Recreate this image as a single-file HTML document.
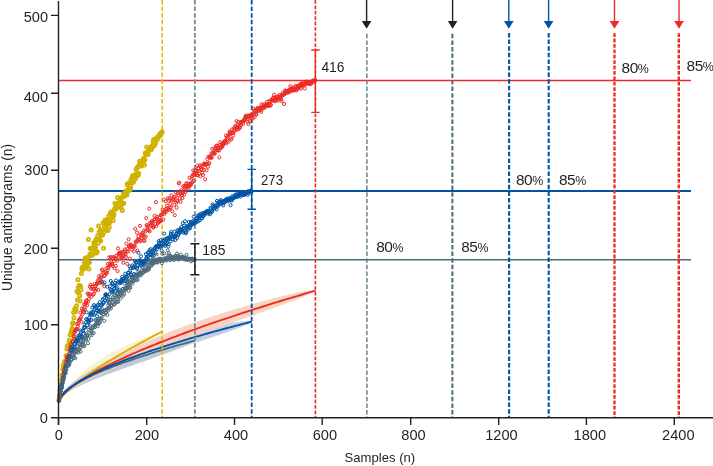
<!DOCTYPE html><html><head><meta charset="utf-8"><title>Chart</title><style>html,body{margin:0;padding:0;background:#fff}svg{display:block}</style></head><body><svg width="713" height="466" viewBox="0 0 713 466" font-family="'Liberation Sans', Arial, sans-serif" fill="#231f20">
<rect width="713" height="466" fill="#fff"/>
<path d="M58.5 402.0 L60.3 397.8 L62.0 394.9 L63.8 392.4 L65.5 390.1 L67.3 387.9 L69.0 385.8 L70.8 383.9 L72.5 382.0 L74.3 380.2 L76.1 378.5 L77.8 376.8 L79.6 375.2 L81.3 373.6 L83.1 372.1 L84.8 370.6 L86.6 369.2 L88.4 367.8 L90.1 366.5 L91.9 365.1 L93.6 363.9 L95.4 362.6 L97.1 361.4 L98.9 360.2 L100.6 359.1 L102.4 358.0 L104.2 356.9 L105.9 355.8 L107.7 354.8 L109.4 353.8 L111.2 352.8 L112.9 351.9 L114.7 351.0 L116.4 350.0 L118.2 349.2 L120.0 348.3 L121.7 347.4 L123.5 346.6 L125.2 345.8 L127.0 345.0 L128.7 344.2 L130.5 343.5 L132.2 342.7 L134.0 342.0 L135.8 341.3 L137.5 340.6 L139.3 339.9 L141.0 339.2 L142.8 338.5 L144.5 337.9 L146.3 337.2 L148.1 336.5 L149.8 335.9 L151.6 335.3 L153.3 334.7 L155.1 334.0 L156.8 333.4 L158.6 332.8 L160.3 332.2 L162.1 331.6 L162.1 331.6 L160.3 332.6 L158.6 333.6 L156.8 334.6 L155.1 335.7 L153.3 336.7 L151.6 337.7 L149.8 338.7 L148.1 339.8 L146.3 340.8 L144.5 341.8 L142.8 342.9 L141.0 343.9 L139.3 345.0 L137.5 346.0 L135.8 347.1 L134.0 348.1 L132.2 349.2 L130.5 350.3 L128.7 351.3 L127.0 352.4 L125.2 353.5 L123.5 354.5 L121.7 355.6 L120.0 356.7 L118.2 357.8 L116.4 358.9 L114.7 360.0 L112.9 361.1 L111.2 362.2 L109.4 363.3 L107.7 364.4 L105.9 365.5 L104.2 366.6 L102.4 367.7 L100.6 368.8 L98.9 369.9 L97.1 371.1 L95.4 372.2 L93.6 373.3 L91.9 374.5 L90.1 375.6 L88.4 376.8 L86.6 378.0 L84.8 379.2 L83.1 380.4 L81.3 381.6 L79.6 382.8 L77.8 384.1 L76.1 385.3 L74.3 386.6 L72.5 388.0 L70.8 389.3 L69.0 390.7 L67.3 392.2 L65.5 393.7 L63.8 395.3 L62.0 397.1 L60.3 399.1 L58.5 402.0Z" fill="#f8f0d0" fill-opacity="0.9"/>
<path d="M58.5 402.0 L60.8 395.3 L63.1 392.0 L65.4 389.3 L67.7 387.0 L70.1 385.0 L72.4 383.1 L74.7 381.3 L77.0 379.6 L79.3 378.1 L81.6 376.6 L83.9 375.1 L86.2 373.8 L88.6 372.4 L90.9 371.2 L93.2 369.9 L95.5 368.7 L97.8 367.6 L100.1 366.5 L102.4 365.4 L104.7 364.3 L107.0 363.3 L109.4 362.3 L111.7 361.3 L114.0 360.3 L116.3 359.4 L118.6 358.5 L120.9 357.6 L123.2 356.7 L125.5 355.9 L127.9 355.1 L130.2 354.3 L132.5 353.5 L134.8 352.7 L137.1 352.0 L139.4 351.2 L141.7 350.5 L144.0 349.8 L146.4 349.2 L148.7 348.5 L151.0 347.8 L153.3 347.2 L155.6 346.6 L157.9 346.0 L160.2 345.4 L162.5 344.9 L164.8 344.3 L167.2 343.8 L169.5 343.3 L171.8 342.8 L174.1 342.3 L176.4 341.9 L178.7 341.5 L181.0 341.1 L183.3 340.7 L185.7 340.4 L188.0 340.1 L190.3 339.9 L192.6 339.8 L194.9 340.6 L194.9 340.6 L192.6 342.6 L190.3 343.8 L188.0 344.9 L185.7 345.9 L183.3 346.9 L181.0 347.8 L178.7 348.7 L176.4 349.6 L174.1 350.5 L171.8 351.3 L169.5 352.2 L167.2 353.1 L164.8 353.9 L162.5 354.8 L160.2 355.6 L157.9 356.4 L155.6 357.2 L153.3 358.1 L151.0 358.9 L148.7 359.7 L146.4 360.5 L144.0 361.4 L141.7 362.2 L139.4 363.0 L137.1 363.8 L134.8 364.6 L132.5 365.4 L130.2 366.3 L127.9 367.1 L125.5 367.9 L123.2 368.7 L120.9 369.6 L118.6 370.4 L116.3 371.2 L114.0 372.1 L111.7 372.9 L109.4 373.8 L107.0 374.7 L104.7 375.5 L102.4 376.4 L100.1 377.3 L97.8 378.2 L95.5 379.1 L93.2 380.1 L90.9 381.0 L88.6 382.0 L86.2 383.0 L83.9 384.0 L81.6 385.1 L79.3 386.2 L77.0 387.3 L74.7 388.5 L72.4 389.8 L70.1 391.1 L67.7 392.5 L65.4 394.1 L63.1 395.9 L60.8 398.1 L58.5 402.0Z" fill="#bcc8d2" fill-opacity="0.9"/>
<path d="M58.5 402.0 L61.8 393.8 L65.0 389.7 L68.3 386.4 L71.6 383.5 L74.9 380.8 L78.1 378.4 L81.4 376.2 L84.7 374.1 L88.0 372.1 L91.2 370.2 L94.5 368.3 L97.8 366.6 L101.1 364.9 L104.3 363.3 L107.6 361.7 L110.9 360.1 L114.2 358.6 L117.4 357.2 L120.7 355.8 L124.0 354.4 L127.3 353.1 L130.5 351.8 L133.8 350.5 L137.1 349.2 L140.4 348.0 L143.6 346.8 L146.9 345.7 L150.2 344.5 L153.5 343.4 L156.7 342.3 L160.0 341.3 L163.3 340.2 L166.6 339.2 L169.8 338.2 L173.1 337.2 L176.4 336.3 L179.7 335.4 L182.9 334.4 L186.2 333.5 L189.5 332.7 L192.8 331.8 L196.0 331.0 L199.3 330.2 L202.6 329.4 L205.9 328.6 L209.1 327.8 L212.4 327.1 L215.7 326.4 L219.0 325.7 L222.2 325.0 L225.5 324.4 L228.8 323.7 L232.1 323.1 L235.3 322.6 L238.6 322.1 L241.9 321.6 L245.2 321.3 L248.4 321.0 L251.7 321.7 L251.7 321.7 L248.4 324.0 L245.2 325.5 L241.9 326.8 L238.6 328.1 L235.3 329.3 L232.1 330.4 L228.8 331.6 L225.5 332.7 L222.2 333.8 L219.0 334.9 L215.7 336.0 L212.4 337.1 L209.1 338.2 L205.9 339.3 L202.6 340.4 L199.3 341.4 L196.0 342.5 L192.8 343.6 L189.5 344.6 L186.2 345.7 L182.9 346.8 L179.7 347.8 L176.4 348.9 L173.1 350.0 L169.8 351.0 L166.6 352.1 L163.3 353.2 L160.0 354.3 L156.7 355.3 L153.5 356.4 L150.2 357.5 L146.9 358.6 L143.6 359.7 L140.4 360.8 L137.1 362.0 L133.8 363.1 L130.5 364.2 L127.3 365.4 L124.0 366.6 L120.7 367.8 L117.4 369.0 L114.2 370.2 L110.9 371.4 L107.6 372.7 L104.3 374.0 L101.1 375.3 L97.8 376.6 L94.5 378.0 L91.2 379.4 L88.0 380.9 L84.7 382.4 L81.4 384.0 L78.1 385.7 L74.9 387.5 L71.6 389.4 L68.3 391.5 L65.0 393.9 L61.8 396.8 L58.5 402.0Z" fill="#bfc8e2" fill-opacity="0.9"/>
<path d="M58.5 402.0 L62.9 393.3 L67.2 388.4 L71.6 384.3 L75.9 380.7 L80.3 377.4 L84.6 374.3 L89.0 371.4 L93.3 368.6 L97.7 365.9 L102.0 363.4 L106.4 360.9 L110.8 358.6 L115.1 356.3 L119.5 354.0 L123.8 351.9 L128.2 349.8 L132.5 347.7 L136.9 345.7 L141.2 343.7 L145.6 341.8 L149.9 339.9 L154.3 338.0 L158.6 336.2 L163.0 334.4 L167.4 332.7 L171.7 331.0 L176.1 329.3 L180.4 327.7 L184.8 326.0 L189.1 324.4 L193.5 322.9 L197.8 321.3 L202.2 319.8 L206.5 318.3 L210.9 316.8 L215.3 315.4 L219.6 314.0 L224.0 312.6 L228.3 311.2 L232.7 309.9 L237.0 308.5 L241.4 307.2 L245.7 305.9 L250.1 304.7 L254.4 303.4 L258.8 302.2 L263.1 301.0 L267.5 299.9 L271.9 298.7 L276.2 297.6 L280.6 296.5 L284.9 295.5 L289.3 294.5 L293.6 293.5 L298.0 292.5 L302.3 291.7 L306.7 290.9 L311.0 290.3 L315.4 290.6 L315.4 290.6 L311.0 293.5 L306.7 295.4 L302.3 297.2 L298.0 299.0 L293.6 300.7 L289.3 302.3 L284.9 303.9 L280.6 305.5 L276.2 307.1 L271.9 308.7 L267.5 310.3 L263.1 311.9 L258.8 313.4 L254.4 315.0 L250.1 316.5 L245.7 318.1 L241.4 319.6 L237.0 321.2 L232.7 322.8 L228.3 324.3 L224.0 325.9 L219.6 327.4 L215.3 329.0 L210.9 330.5 L206.5 332.1 L202.2 333.7 L197.8 335.3 L193.5 336.8 L189.1 338.4 L184.8 340.0 L180.4 341.6 L176.1 343.2 L171.7 344.9 L167.4 346.5 L163.0 348.1 L158.6 349.8 L154.3 351.5 L149.9 353.2 L145.6 354.9 L141.2 356.6 L136.9 358.3 L132.5 360.1 L128.2 361.9 L123.8 363.7 L119.5 365.6 L115.1 367.5 L110.8 369.4 L106.4 371.4 L102.0 373.4 L97.7 375.4 L93.3 377.6 L89.0 379.8 L84.6 382.1 L80.3 384.5 L75.9 387.1 L71.6 389.9 L67.2 392.9 L62.9 396.5 L58.5 402.0Z" fill="#f9cfbd" fill-opacity="0.9"/>
<path d="M58.5 402.0 L60.3 398.8 L62.0 396.5 L63.8 394.6 L65.5 392.8 L67.3 391.1 L69.0 389.5 L70.8 387.9 L72.5 386.4 L74.3 385.0 L76.1 383.6 L77.8 382.2 L79.6 380.8 L81.3 379.5 L83.1 378.2 L84.8 377.0 L86.6 375.7 L88.4 374.5 L90.1 373.3 L91.9 372.1 L93.6 370.9 L95.4 369.7 L97.1 368.6 L98.9 367.4 L100.6 366.3 L102.4 365.2 L104.2 364.1 L105.9 363.0 L107.7 361.9 L109.4 360.8 L111.2 359.8 L112.9 358.7 L114.7 357.6 L116.4 356.6 L118.2 355.6 L120.0 354.5 L121.7 353.5 L123.5 352.5 L125.2 351.5 L127.0 350.5 L128.7 349.5 L130.5 348.5 L132.2 347.5 L134.0 346.6 L135.8 345.6 L137.5 344.6 L139.3 343.7 L141.0 342.7 L142.8 341.8 L144.5 340.8 L146.3 339.9 L148.1 338.9 L149.8 338.0 L151.6 337.1 L153.3 336.2 L155.1 335.2 L156.8 334.3 L158.6 333.4 L160.3 332.5 L162.1 331.6" fill="none" stroke="#d2b300" stroke-width="1.9"/>
<path d="M58.5 402.0 L62.9 394.9 L67.2 390.7 L71.6 387.1 L75.9 383.9 L80.3 380.9 L84.6 378.2 L89.0 375.6 L93.3 373.1 L97.7 370.7 L102.0 368.4 L106.4 366.1 L110.8 364.0 L115.1 361.9 L119.5 359.8 L123.8 357.8 L128.2 355.8 L132.5 353.9 L136.9 352.0 L141.2 350.2 L145.6 348.3 L149.9 346.5 L154.3 344.8 L158.6 343.0 L163.0 341.3 L167.4 339.6 L171.7 337.9 L176.1 336.3 L180.4 334.6 L184.8 333.0 L189.1 331.4 L193.5 329.9 L197.8 328.3 L202.2 326.7 L206.5 325.2 L210.9 323.7 L215.3 322.2 L219.6 320.7 L224.0 319.2 L228.3 317.8 L232.7 316.3 L237.0 314.9 L241.4 313.4 L245.7 312.0 L250.1 310.6 L254.4 309.2 L258.8 307.8 L263.1 306.5 L267.5 305.1 L271.9 303.7 L276.2 302.4 L280.6 301.0 L284.9 299.7 L289.3 298.4 L293.6 297.1 L298.0 295.8 L302.3 294.5 L306.7 293.2 L311.0 291.9 L315.4 290.6" fill="none" stroke="#ee2a24" stroke-width="1.9"/>
<path d="M58.5 402.0 L60.8 396.7 L63.1 393.9 L65.4 391.7 L67.7 389.8 L70.1 388.0 L72.4 386.4 L74.7 384.9 L77.0 383.5 L79.3 382.1 L81.6 380.8 L83.9 379.6 L86.2 378.4 L88.6 377.2 L90.9 376.1 L93.2 375.0 L95.5 373.9 L97.8 372.9 L100.1 371.9 L102.4 370.9 L104.7 369.9 L107.0 369.0 L109.4 368.0 L111.7 367.1 L114.0 366.2 L116.3 365.3 L118.6 364.4 L120.9 363.6 L123.2 362.7 L125.5 361.9 L127.9 361.1 L130.2 360.3 L132.5 359.5 L134.8 358.7 L137.1 357.9 L139.4 357.1 L141.7 356.4 L144.0 355.6 L146.4 354.8 L148.7 354.1 L151.0 353.4 L153.3 352.6 L155.6 351.9 L157.9 351.2 L160.2 350.5 L162.5 349.8 L164.8 349.1 L167.2 348.4 L169.5 347.7 L171.8 347.1 L174.1 346.4 L176.4 345.7 L178.7 345.1 L181.0 344.4 L183.3 343.8 L185.7 343.1 L188.0 342.5 L190.3 341.9 L192.6 341.2 L194.9 340.6" fill="none" stroke="#4d6a79" stroke-width="1.9"/>
<path d="M58.5 402.0 L61.8 395.3 L65.0 391.8 L68.3 389.0 L71.6 386.4 L74.9 384.2 L78.1 382.1 L81.4 380.1 L84.7 378.3 L88.0 376.5 L91.2 374.8 L94.5 373.2 L97.8 371.6 L101.1 370.1 L104.3 368.6 L107.6 367.2 L110.9 365.8 L114.2 364.4 L117.4 363.1 L120.7 361.8 L124.0 360.5 L127.3 359.2 L130.5 358.0 L133.8 356.8 L137.1 355.6 L140.4 354.4 L143.6 353.3 L146.9 352.2 L150.2 351.0 L153.5 349.9 L156.7 348.8 L160.0 347.8 L163.3 346.7 L166.6 345.7 L169.8 344.6 L173.1 343.6 L176.4 342.6 L179.7 341.6 L182.9 340.6 L186.2 339.6 L189.5 338.6 L192.8 337.7 L196.0 336.7 L199.3 335.8 L202.6 334.9 L205.9 333.9 L209.1 333.0 L212.4 332.1 L215.7 331.2 L219.0 330.3 L222.2 329.4 L225.5 328.5 L228.8 327.7 L232.1 326.8 L235.3 325.9 L238.6 325.1 L241.9 324.2 L245.2 323.4 L248.4 322.5 L251.7 321.7" fill="none" stroke="#0054a4" stroke-width="1.9"/>
<path d="M58.5 80.5H691" stroke="#ee2a24" stroke-width="1.3"/>
<path d="M58.5 191H691" stroke="#0054a4" stroke-width="1.8"/>
<path d="M58.5 259.7H691" stroke="#4d6a79" stroke-width="1.5"/>
<path d="M162.2 0.0V417" stroke="#e2b707" stroke-width="1.5" stroke-dasharray="4.5 2.1" fill="none"/>
<path d="M194.9 0.0V417" stroke="#6f8792" stroke-width="1.7" stroke-dasharray="4.5 2.1" fill="none"/>
<path d="M251.7 0.0V417" stroke="#0054a4" stroke-width="1.8" stroke-dasharray="4.5 2.1" fill="none"/>
<path d="M315.4 0.0V417" stroke="#ee2a24" stroke-width="1.6" stroke-dasharray="3.8 1.6" fill="none"/>
<path d="M366.9 33.8V417" stroke="#5d7886" stroke-width="1.4" stroke-dasharray="4.5 2.1" fill="none"/>
<path d="M452.4 33.8V417" stroke="#4d6a79" stroke-width="2.0" stroke-dasharray="4.5 2.1" fill="none"/>
<path d="M509.1 33.0V417" stroke="#0054a4" stroke-width="2.1" stroke-dasharray="4.5 2.1" fill="none"/>
<path d="M548.7 33.0V417" stroke="#0054a4" stroke-width="2.1" stroke-dasharray="4.5 2.1" fill="none"/>
<path d="M614.5 33.2V417" stroke="#ee2a24" stroke-width="2.3" stroke-dasharray="3.8 1.6" fill="none"/>
<path d="M678.8 33.2V417" stroke="#ee2a24" stroke-width="2.4" stroke-dasharray="3.8 1.6" fill="none"/>
<g class="yy" fill="none" stroke="#d0b200" stroke-width="1.8"><circle cx="58.9" cy="400.3" r="1.6"/><circle cx="59.4" cy="394.7" r="1.6"/><circle cx="59.8" cy="390.2" r="1.6"/><circle cx="60.3" cy="388.3" r="1.6"/><circle cx="60.7" cy="385.5" r="1.6"/><circle cx="61.1" cy="384.2" r="1.6"/><circle cx="61.6" cy="379.7" r="1.6"/><circle cx="62.0" cy="374.9" r="1.6"/><circle cx="62.5" cy="375.9" r="1.6"/><circle cx="62.9" cy="369.2" r="1.6"/><circle cx="63.3" cy="365.4" r="1.6"/><circle cx="63.8" cy="369.8" r="1.6"/><circle cx="64.2" cy="363.1" r="1.6"/><circle cx="64.7" cy="361.8" r="1.6"/><circle cx="65.1" cy="361.5" r="1.6"/><circle cx="65.6" cy="361.0" r="1.6"/><circle cx="66.0" cy="355.8" r="1.6"/><circle cx="66.4" cy="356.5" r="1.6"/><circle cx="66.9" cy="348.9" r="1.6"/><circle cx="67.3" cy="346.0" r="1.6"/><circle cx="67.8" cy="357.9" r="1.6"/><circle cx="68.2" cy="356.6" r="1.6"/><circle cx="68.6" cy="345.5" r="1.6"/><circle cx="69.1" cy="342.4" r="1.6"/><circle cx="69.5" cy="340.0" r="1.6"/><circle cx="70.0" cy="334.7" r="1.6"/><circle cx="70.4" cy="347.8" r="1.6"/><circle cx="70.8" cy="334.6" r="1.6"/><circle cx="71.3" cy="331.5" r="1.6"/><circle cx="71.7" cy="330.4" r="1.6"/><circle cx="72.2" cy="328.6" r="1.6"/><circle cx="72.6" cy="323.8" r="1.6"/><circle cx="73.0" cy="322.7" r="1.6"/><circle cx="73.5" cy="312.4" r="1.6"/><circle cx="73.9" cy="317.7" r="1.6"/><circle cx="74.4" cy="337.0" r="1.6"/><circle cx="74.8" cy="308.8" r="1.6"/><circle cx="75.3" cy="308.5" r="1.6"/><circle cx="75.7" cy="311.5" r="1.6"/><circle cx="76.1" cy="309.8" r="1.6"/><circle cx="76.6" cy="305.7" r="1.6"/><circle cx="77.0" cy="291.6" r="1.6"/><circle cx="77.5" cy="300.1" r="1.6"/><circle cx="77.9" cy="279.8" r="1.6"/><circle cx="78.3" cy="287.8" r="1.6"/><circle cx="78.8" cy="293.0" r="1.6"/><circle cx="79.2" cy="285.6" r="1.6"/><circle cx="79.7" cy="295.7" r="1.6"/><circle cx="80.1" cy="300.9" r="1.6"/><circle cx="80.5" cy="285.9" r="1.6"/><circle cx="81.0" cy="289.7" r="1.6"/><circle cx="81.4" cy="273.6" r="1.6"/><circle cx="81.9" cy="268.6" r="1.6"/><circle cx="82.3" cy="269.7" r="1.6"/><circle cx="82.7" cy="267.2" r="1.6"/><circle cx="83.2" cy="266.7" r="1.6"/><circle cx="83.6" cy="267.6" r="1.6"/><circle cx="84.1" cy="268.7" r="1.6"/><circle cx="84.5" cy="262.8" r="1.6"/><circle cx="85.0" cy="259.1" r="1.6"/><circle cx="85.4" cy="258.0" r="1.6"/><circle cx="85.8" cy="266.4" r="1.6"/><circle cx="86.3" cy="263.2" r="1.6"/><circle cx="86.7" cy="266.6" r="1.6"/><circle cx="87.2" cy="265.6" r="1.6"/><circle cx="87.6" cy="257.4" r="1.6"/><circle cx="88.0" cy="262.0" r="1.6"/><circle cx="88.5" cy="239.6" r="1.6"/><circle cx="88.9" cy="269.0" r="1.6"/><circle cx="89.4" cy="262.4" r="1.6"/><circle cx="89.8" cy="254.2" r="1.6"/><circle cx="90.2" cy="248.4" r="1.6"/><circle cx="90.7" cy="255.7" r="1.6"/><circle cx="91.1" cy="230.1" r="1.6"/><circle cx="91.6" cy="248.2" r="1.6"/><circle cx="92.0" cy="255.3" r="1.6"/><circle cx="92.4" cy="251.1" r="1.6"/><circle cx="92.9" cy="247.4" r="1.6"/><circle cx="93.3" cy="254.0" r="1.6"/><circle cx="93.8" cy="243.1" r="1.6"/><circle cx="94.2" cy="249.0" r="1.6"/><circle cx="94.6" cy="244.3" r="1.6"/><circle cx="95.1" cy="241.8" r="1.6"/><circle cx="95.5" cy="247.6" r="1.6"/><circle cx="96.0" cy="239.5" r="1.6"/><circle cx="96.4" cy="253.1" r="1.6"/><circle cx="96.9" cy="240.0" r="1.6"/><circle cx="97.3" cy="251.8" r="1.6"/><circle cx="97.7" cy="235.9" r="1.6"/><circle cx="98.2" cy="243.3" r="1.6"/><circle cx="98.6" cy="225.9" r="1.6"/><circle cx="99.1" cy="232.2" r="1.6"/><circle cx="99.5" cy="238.7" r="1.6"/><circle cx="99.9" cy="240.3" r="1.6"/><circle cx="100.4" cy="230.2" r="1.6"/><circle cx="100.8" cy="241.0" r="1.6"/><circle cx="101.3" cy="230.8" r="1.6"/><circle cx="101.7" cy="234.4" r="1.6"/><circle cx="102.1" cy="234.7" r="1.6"/><circle cx="102.6" cy="234.9" r="1.6"/><circle cx="103.0" cy="223.0" r="1.6"/><circle cx="103.5" cy="248.2" r="1.6"/><circle cx="103.9" cy="232.5" r="1.6"/><circle cx="104.3" cy="227.2" r="1.6"/><circle cx="104.8" cy="223.8" r="1.6"/><circle cx="105.2" cy="220.1" r="1.6"/><circle cx="105.7" cy="220.9" r="1.6"/><circle cx="106.1" cy="228.8" r="1.6"/><circle cx="106.6" cy="224.1" r="1.6"/><circle cx="107.0" cy="219.9" r="1.6"/><circle cx="107.4" cy="221.9" r="1.6"/><circle cx="107.9" cy="230.4" r="1.6"/><circle cx="108.3" cy="221.4" r="1.6"/><circle cx="108.8" cy="216.1" r="1.6"/><circle cx="109.2" cy="227.3" r="1.6"/><circle cx="109.6" cy="222.7" r="1.6"/><circle cx="110.1" cy="220.2" r="1.6"/><circle cx="110.5" cy="213.2" r="1.6"/><circle cx="111.0" cy="212.0" r="1.6"/><circle cx="111.4" cy="212.9" r="1.6"/><circle cx="111.8" cy="215.2" r="1.6"/><circle cx="112.3" cy="215.6" r="1.6"/><circle cx="112.7" cy="217.2" r="1.6"/><circle cx="113.2" cy="220.4" r="1.6"/><circle cx="113.6" cy="215.3" r="1.6"/><circle cx="114.0" cy="214.5" r="1.6"/><circle cx="114.5" cy="208.9" r="1.6"/><circle cx="114.9" cy="203.5" r="1.6"/><circle cx="115.4" cy="209.4" r="1.6"/><circle cx="115.8" cy="207.0" r="1.6"/><circle cx="116.3" cy="207.4" r="1.6"/><circle cx="116.7" cy="208.1" r="1.6"/><circle cx="117.1" cy="203.5" r="1.6"/><circle cx="117.6" cy="197.4" r="1.6"/><circle cx="118.0" cy="206.3" r="1.6"/><circle cx="118.5" cy="206.4" r="1.6"/><circle cx="118.9" cy="202.6" r="1.6"/><circle cx="119.3" cy="206.2" r="1.6"/><circle cx="119.8" cy="202.6" r="1.6"/><circle cx="120.2" cy="198.8" r="1.6"/><circle cx="120.7" cy="202.0" r="1.6"/><circle cx="121.1" cy="208.0" r="1.6"/><circle cx="121.5" cy="197.7" r="1.6"/><circle cx="122.0" cy="203.7" r="1.6"/><circle cx="122.4" cy="210.4" r="1.6"/><circle cx="122.9" cy="203.2" r="1.6"/><circle cx="123.3" cy="194.0" r="1.6"/><circle cx="123.7" cy="203.3" r="1.6"/><circle cx="124.2" cy="196.3" r="1.6"/><circle cx="124.6" cy="193.6" r="1.6"/><circle cx="125.1" cy="192.9" r="1.6"/><circle cx="125.5" cy="195.0" r="1.6"/><circle cx="126.0" cy="192.3" r="1.6"/><circle cx="126.4" cy="190.7" r="1.6"/><circle cx="126.8" cy="194.9" r="1.6"/><circle cx="127.3" cy="184.1" r="1.6"/><circle cx="127.7" cy="185.5" r="1.6"/><circle cx="128.2" cy="190.9" r="1.6"/><circle cx="128.6" cy="189.8" r="1.6"/><circle cx="129.0" cy="190.2" r="1.6"/><circle cx="129.5" cy="182.5" r="1.6"/><circle cx="129.9" cy="188.6" r="1.6"/><circle cx="130.4" cy="185.9" r="1.6"/><circle cx="130.8" cy="189.1" r="1.6"/><circle cx="131.2" cy="179.0" r="1.6"/><circle cx="131.7" cy="182.7" r="1.6"/><circle cx="132.1" cy="180.5" r="1.6"/><circle cx="132.6" cy="175.7" r="1.6"/><circle cx="133.0" cy="177.6" r="1.6"/><circle cx="133.4" cy="182.3" r="1.6"/><circle cx="133.9" cy="176.8" r="1.6"/><circle cx="134.3" cy="175.3" r="1.6"/><circle cx="134.8" cy="179.2" r="1.6"/><circle cx="135.2" cy="178.7" r="1.6"/><circle cx="135.6" cy="177.9" r="1.6"/><circle cx="136.1" cy="169.1" r="1.6"/><circle cx="136.5" cy="173.4" r="1.6"/><circle cx="137.0" cy="175.6" r="1.6"/><circle cx="137.4" cy="167.7" r="1.6"/><circle cx="137.9" cy="166.4" r="1.6"/><circle cx="138.3" cy="175.5" r="1.6"/><circle cx="138.7" cy="173.6" r="1.6"/><circle cx="139.2" cy="165.7" r="1.6"/><circle cx="139.6" cy="161.2" r="1.6"/><circle cx="140.1" cy="163.4" r="1.6"/><circle cx="140.5" cy="163.7" r="1.6"/><circle cx="140.9" cy="165.1" r="1.6"/><circle cx="141.4" cy="166.1" r="1.6"/><circle cx="141.8" cy="163.5" r="1.6"/><circle cx="142.3" cy="161.3" r="1.6"/><circle cx="142.7" cy="163.0" r="1.6"/><circle cx="143.1" cy="159.1" r="1.6"/><circle cx="143.6" cy="160.5" r="1.6"/><circle cx="144.0" cy="158.3" r="1.6"/><circle cx="144.5" cy="164.9" r="1.6"/><circle cx="144.9" cy="159.9" r="1.6"/><circle cx="145.3" cy="153.1" r="1.6"/><circle cx="145.8" cy="154.4" r="1.6"/><circle cx="146.2" cy="154.8" r="1.6"/><circle cx="146.7" cy="146.9" r="1.6"/><circle cx="147.1" cy="152.7" r="1.6"/><circle cx="147.6" cy="152.1" r="1.6"/><circle cx="148.0" cy="154.6" r="1.6"/><circle cx="148.4" cy="151.3" r="1.6"/><circle cx="148.9" cy="150.0" r="1.6"/><circle cx="149.3" cy="148.3" r="1.6"/><circle cx="149.8" cy="148.0" r="1.6"/><circle cx="150.2" cy="149.1" r="1.6"/><circle cx="150.6" cy="148.4" r="1.6"/><circle cx="151.1" cy="150.0" r="1.6"/><circle cx="151.5" cy="146.3" r="1.6"/><circle cx="152.0" cy="148.4" r="1.6"/><circle cx="152.4" cy="146.4" r="1.6"/><circle cx="152.8" cy="145.3" r="1.6"/><circle cx="153.3" cy="141.6" r="1.6"/><circle cx="153.7" cy="139.5" r="1.6"/><circle cx="154.2" cy="145.7" r="1.6"/><circle cx="154.6" cy="144.5" r="1.6"/><circle cx="155.0" cy="142.5" r="1.6"/><circle cx="155.5" cy="143.5" r="1.6"/><circle cx="155.9" cy="140.0" r="1.6"/><circle cx="156.4" cy="139.4" r="1.6"/><circle cx="156.8" cy="137.4" r="1.6"/><circle cx="157.3" cy="139.5" r="1.6"/><circle cx="157.7" cy="138.2" r="1.6"/><circle cx="158.1" cy="137.0" r="1.6"/><circle cx="158.6" cy="136.3" r="1.6"/><circle cx="159.0" cy="136.4" r="1.6"/><circle cx="159.5" cy="135.6" r="1.6"/><circle cx="159.9" cy="134.0" r="1.6"/><circle cx="160.3" cy="135.2" r="1.6"/><circle cx="160.8" cy="133.5" r="1.6"/><circle cx="161.2" cy="132.7" r="1.6"/><circle cx="161.7" cy="132.7" r="1.6"/><circle cx="162.1" cy="131.8" r="1.6"/></g>
<g class="s" fill="none" stroke="#ee2a24" stroke-width="1"><circle cx="58.9" cy="400.9" r="1.55"/><circle cx="59.4" cy="396.8" r="1.55"/><circle cx="59.8" cy="393.8" r="1.55"/><circle cx="60.3" cy="391.5" r="1.55"/><circle cx="60.7" cy="388.7" r="1.55"/><circle cx="61.1" cy="386.6" r="1.55"/><circle cx="61.6" cy="385.0" r="1.55"/><circle cx="62.0" cy="382.6" r="1.55"/><circle cx="62.5" cy="379.3" r="1.55"/><circle cx="62.9" cy="377.1" r="1.55"/><circle cx="63.3" cy="374.5" r="1.55"/><circle cx="63.8" cy="372.3" r="1.55"/><circle cx="64.2" cy="370.1" r="1.55"/><circle cx="64.7" cy="368.5" r="1.55"/><circle cx="65.1" cy="366.4" r="1.55"/><circle cx="65.6" cy="365.5" r="1.55"/><circle cx="66.0" cy="362.3" r="1.55"/><circle cx="66.4" cy="360.5" r="1.55"/><circle cx="66.9" cy="357.3" r="1.55"/><circle cx="67.3" cy="358.8" r="1.55"/><circle cx="67.8" cy="356.2" r="1.55"/><circle cx="68.2" cy="359.2" r="1.55"/><circle cx="68.6" cy="355.1" r="1.55"/><circle cx="69.1" cy="353.3" r="1.55"/><circle cx="69.5" cy="349.7" r="1.55"/><circle cx="70.0" cy="349.6" r="1.55"/><circle cx="70.4" cy="351.0" r="1.55"/><circle cx="70.8" cy="344.0" r="1.55"/><circle cx="71.3" cy="348.5" r="1.55"/><circle cx="71.7" cy="345.6" r="1.55"/><circle cx="72.2" cy="342.3" r="1.55"/><circle cx="72.6" cy="341.4" r="1.55"/><circle cx="73.0" cy="340.9" r="1.55"/><circle cx="73.5" cy="336.3" r="1.55"/><circle cx="73.9" cy="336.7" r="1.55"/><circle cx="74.4" cy="333.0" r="1.55"/><circle cx="74.8" cy="332.0" r="1.55"/><circle cx="75.2" cy="330.7" r="1.55"/><circle cx="75.7" cy="330.2" r="1.55"/><circle cx="76.1" cy="329.4" r="1.55"/><circle cx="76.6" cy="328.8" r="1.55"/><circle cx="77.0" cy="323.6" r="1.55"/><circle cx="77.4" cy="329.4" r="1.55"/><circle cx="77.9" cy="326.4" r="1.55"/><circle cx="78.3" cy="324.2" r="1.55"/><circle cx="78.8" cy="320.5" r="1.55"/><circle cx="79.2" cy="319.8" r="1.55"/><circle cx="79.7" cy="320.0" r="1.55"/><circle cx="80.1" cy="318.6" r="1.55"/><circle cx="80.5" cy="312.5" r="1.55"/><circle cx="81.0" cy="317.2" r="1.55"/><circle cx="81.4" cy="321.6" r="1.55"/><circle cx="81.9" cy="308.5" r="1.55"/><circle cx="82.3" cy="314.6" r="1.55"/><circle cx="82.7" cy="311.9" r="1.55"/><circle cx="83.2" cy="309.5" r="1.55"/><circle cx="83.6" cy="312.4" r="1.55"/><circle cx="84.1" cy="304.4" r="1.55"/><circle cx="84.5" cy="307.6" r="1.55"/><circle cx="84.9" cy="309.7" r="1.55"/><circle cx="85.4" cy="304.1" r="1.55"/><circle cx="85.8" cy="300.9" r="1.55"/><circle cx="86.3" cy="303.1" r="1.55"/><circle cx="86.7" cy="300.5" r="1.55"/><circle cx="87.1" cy="305.5" r="1.55"/><circle cx="87.6" cy="293.4" r="1.55"/><circle cx="88.0" cy="301.6" r="1.55"/><circle cx="88.5" cy="294.0" r="1.55"/><circle cx="88.9" cy="299.1" r="1.55"/><circle cx="89.3" cy="295.7" r="1.55"/><circle cx="89.8" cy="286.7" r="1.55"/><circle cx="90.2" cy="294.1" r="1.55"/><circle cx="90.7" cy="284.8" r="1.55"/><circle cx="91.1" cy="288.7" r="1.55"/><circle cx="91.5" cy="296.6" r="1.55"/><circle cx="92.0" cy="286.9" r="1.55"/><circle cx="92.4" cy="286.5" r="1.55"/><circle cx="92.9" cy="294.6" r="1.55"/><circle cx="93.3" cy="289.4" r="1.55"/><circle cx="93.8" cy="293.9" r="1.55"/><circle cx="94.2" cy="288.9" r="1.55"/><circle cx="94.6" cy="283.9" r="1.55"/><circle cx="95.1" cy="286.3" r="1.55"/><circle cx="95.5" cy="290.5" r="1.55"/><circle cx="96.0" cy="288.8" r="1.55"/><circle cx="96.4" cy="284.7" r="1.55"/><circle cx="96.8" cy="284.2" r="1.55"/><circle cx="97.3" cy="283.0" r="1.55"/><circle cx="97.7" cy="280.6" r="1.55"/><circle cx="98.2" cy="289.9" r="1.55"/><circle cx="98.6" cy="281.6" r="1.55"/><circle cx="99.0" cy="276.4" r="1.55"/><circle cx="99.5" cy="278.4" r="1.55"/><circle cx="99.9" cy="282.8" r="1.55"/><circle cx="100.4" cy="281.8" r="1.55"/><circle cx="100.8" cy="278.0" r="1.55"/><circle cx="101.2" cy="275.1" r="1.55"/><circle cx="101.7" cy="277.4" r="1.55"/><circle cx="102.1" cy="269.5" r="1.55"/><circle cx="102.6" cy="270.5" r="1.55"/><circle cx="103.0" cy="283.7" r="1.55"/><circle cx="103.4" cy="272.7" r="1.55"/><circle cx="103.9" cy="275.8" r="1.55"/><circle cx="104.3" cy="286.3" r="1.55"/><circle cx="104.8" cy="275.7" r="1.55"/><circle cx="105.2" cy="272.2" r="1.55"/><circle cx="105.6" cy="294.3" r="1.55"/><circle cx="106.1" cy="273.8" r="1.55"/><circle cx="106.5" cy="268.4" r="1.55"/><circle cx="107.0" cy="272.8" r="1.55"/><circle cx="107.4" cy="270.6" r="1.55"/><circle cx="107.9" cy="264.0" r="1.55"/><circle cx="108.3" cy="268.0" r="1.55"/><circle cx="108.7" cy="266.4" r="1.55"/><circle cx="109.2" cy="257.3" r="1.55"/><circle cx="109.6" cy="265.6" r="1.55"/><circle cx="110.1" cy="264.6" r="1.55"/><circle cx="110.5" cy="263.5" r="1.55"/><circle cx="110.9" cy="257.1" r="1.55"/><circle cx="111.4" cy="260.7" r="1.55"/><circle cx="111.8" cy="264.2" r="1.55"/><circle cx="112.3" cy="264.5" r="1.55"/><circle cx="112.7" cy="258.0" r="1.55"/><circle cx="113.1" cy="266.2" r="1.55"/><circle cx="113.6" cy="256.8" r="1.55"/><circle cx="114.0" cy="261.2" r="1.55"/><circle cx="114.5" cy="268.2" r="1.55"/><circle cx="114.9" cy="258.1" r="1.55"/><circle cx="115.3" cy="258.6" r="1.55"/><circle cx="115.8" cy="265.8" r="1.55"/><circle cx="116.2" cy="255.9" r="1.55"/><circle cx="116.7" cy="258.5" r="1.55"/><circle cx="117.1" cy="260.6" r="1.55"/><circle cx="117.5" cy="271.1" r="1.55"/><circle cx="118.0" cy="248.4" r="1.55"/><circle cx="118.4" cy="254.6" r="1.55"/><circle cx="118.9" cy="253.5" r="1.55"/><circle cx="119.3" cy="252.8" r="1.55"/><circle cx="119.8" cy="253.5" r="1.55"/><circle cx="120.2" cy="253.3" r="1.55"/><circle cx="120.6" cy="258.4" r="1.55"/><circle cx="121.1" cy="252.4" r="1.55"/><circle cx="121.5" cy="256.9" r="1.55"/><circle cx="122.0" cy="257.9" r="1.55"/><circle cx="122.4" cy="252.2" r="1.55"/><circle cx="122.8" cy="255.9" r="1.55"/><circle cx="123.3" cy="262.7" r="1.55"/><circle cx="123.7" cy="256.2" r="1.55"/><circle cx="124.2" cy="251.3" r="1.55"/><circle cx="124.6" cy="253.7" r="1.55"/><circle cx="125.0" cy="249.4" r="1.55"/><circle cx="125.5" cy="254.6" r="1.55"/><circle cx="125.9" cy="257.0" r="1.55"/><circle cx="126.4" cy="243.6" r="1.55"/><circle cx="126.8" cy="251.1" r="1.55"/><circle cx="127.2" cy="263.7" r="1.55"/><circle cx="127.7" cy="248.9" r="1.55"/><circle cx="128.1" cy="251.6" r="1.55"/><circle cx="128.6" cy="239.3" r="1.55"/><circle cx="129.0" cy="246.1" r="1.55"/><circle cx="129.4" cy="247.1" r="1.55"/><circle cx="129.9" cy="258.8" r="1.55"/><circle cx="130.3" cy="244.3" r="1.55"/><circle cx="130.8" cy="245.8" r="1.55"/><circle cx="131.2" cy="245.2" r="1.55"/><circle cx="131.6" cy="246.5" r="1.55"/><circle cx="132.1" cy="249.7" r="1.55"/><circle cx="132.5" cy="247.2" r="1.55"/><circle cx="133.0" cy="267.4" r="1.55"/><circle cx="133.4" cy="246.4" r="1.55"/><circle cx="133.9" cy="251.4" r="1.55"/><circle cx="134.3" cy="245.8" r="1.55"/><circle cx="134.7" cy="246.8" r="1.55"/><circle cx="135.2" cy="228.8" r="1.55"/><circle cx="135.6" cy="242.0" r="1.55"/><circle cx="136.1" cy="242.5" r="1.55"/><circle cx="136.5" cy="241.3" r="1.55"/><circle cx="136.9" cy="232.6" r="1.55"/><circle cx="137.4" cy="250.6" r="1.55"/><circle cx="137.8" cy="239.4" r="1.55"/><circle cx="138.3" cy="236.2" r="1.55"/><circle cx="138.7" cy="239.1" r="1.55"/><circle cx="139.1" cy="238.8" r="1.55"/><circle cx="139.6" cy="241.1" r="1.55"/><circle cx="140.0" cy="225.9" r="1.55"/><circle cx="140.5" cy="234.4" r="1.55"/><circle cx="140.9" cy="240.9" r="1.55"/><circle cx="141.3" cy="238.2" r="1.55"/><circle cx="141.8" cy="235.5" r="1.55"/><circle cx="142.2" cy="234.2" r="1.55"/><circle cx="142.7" cy="232.7" r="1.55"/><circle cx="143.1" cy="235.5" r="1.55"/><circle cx="143.5" cy="240.4" r="1.55"/><circle cx="144.0" cy="230.4" r="1.55"/><circle cx="144.4" cy="241.0" r="1.55"/><circle cx="144.9" cy="237.6" r="1.55"/><circle cx="145.3" cy="231.7" r="1.55"/><circle cx="145.7" cy="236.5" r="1.55"/><circle cx="146.2" cy="218.1" r="1.55"/><circle cx="146.6" cy="225.0" r="1.55"/><circle cx="147.1" cy="226.4" r="1.55"/><circle cx="147.5" cy="229.7" r="1.55"/><circle cx="148.0" cy="229.6" r="1.55"/><circle cx="148.4" cy="225.4" r="1.55"/><circle cx="148.8" cy="230.5" r="1.55"/><circle cx="149.3" cy="208.6" r="1.55"/><circle cx="149.7" cy="231.3" r="1.55"/><circle cx="150.2" cy="222.8" r="1.55"/><circle cx="150.6" cy="225.6" r="1.55"/><circle cx="151.0" cy="226.1" r="1.55"/><circle cx="151.5" cy="222.6" r="1.55"/><circle cx="151.9" cy="221.2" r="1.55"/><circle cx="152.4" cy="222.1" r="1.55"/><circle cx="152.8" cy="225.7" r="1.55"/><circle cx="153.2" cy="227.6" r="1.55"/><circle cx="153.7" cy="226.9" r="1.55"/><circle cx="154.1" cy="219.9" r="1.55"/><circle cx="154.6" cy="215.8" r="1.55"/><circle cx="155.0" cy="219.1" r="1.55"/><circle cx="155.4" cy="224.1" r="1.55"/><circle cx="155.9" cy="202.1" r="1.55"/><circle cx="156.3" cy="226.2" r="1.55"/><circle cx="156.8" cy="218.6" r="1.55"/><circle cx="157.2" cy="216.8" r="1.55"/><circle cx="157.6" cy="222.6" r="1.55"/><circle cx="158.1" cy="223.0" r="1.55"/><circle cx="158.5" cy="219.6" r="1.55"/><circle cx="159.0" cy="221.9" r="1.55"/><circle cx="159.4" cy="217.7" r="1.55"/><circle cx="159.8" cy="221.5" r="1.55"/><circle cx="160.3" cy="221.0" r="1.55"/><circle cx="160.7" cy="215.0" r="1.55"/><circle cx="161.2" cy="220.6" r="1.55"/><circle cx="161.6" cy="214.9" r="1.55"/><circle cx="162.1" cy="214.1" r="1.55"/><circle cx="162.5" cy="209.6" r="1.55"/><circle cx="162.9" cy="211.6" r="1.55"/><circle cx="163.4" cy="219.5" r="1.55"/><circle cx="163.8" cy="199.6" r="1.55"/><circle cx="164.3" cy="213.9" r="1.55"/><circle cx="164.7" cy="212.2" r="1.55"/><circle cx="165.1" cy="211.5" r="1.55"/><circle cx="165.6" cy="201.2" r="1.55"/><circle cx="166.0" cy="209.0" r="1.55"/><circle cx="166.5" cy="211.5" r="1.55"/><circle cx="166.9" cy="205.5" r="1.55"/><circle cx="167.3" cy="208.3" r="1.55"/><circle cx="167.8" cy="198.3" r="1.55"/><circle cx="168.2" cy="209.6" r="1.55"/><circle cx="168.7" cy="200.5" r="1.55"/><circle cx="169.1" cy="209.4" r="1.55"/><circle cx="169.5" cy="198.5" r="1.55"/><circle cx="170.0" cy="207.8" r="1.55"/><circle cx="170.4" cy="203.7" r="1.55"/><circle cx="170.9" cy="207.3" r="1.55"/><circle cx="171.3" cy="195.3" r="1.55"/><circle cx="171.7" cy="200.8" r="1.55"/><circle cx="172.2" cy="211.3" r="1.55"/><circle cx="172.6" cy="199.1" r="1.55"/><circle cx="173.1" cy="199.1" r="1.55"/><circle cx="173.5" cy="200.2" r="1.55"/><circle cx="174.0" cy="196.9" r="1.55"/><circle cx="174.4" cy="204.8" r="1.55"/><circle cx="174.8" cy="215.2" r="1.55"/><circle cx="175.3" cy="196.7" r="1.55"/><circle cx="175.7" cy="192.4" r="1.55"/><circle cx="176.2" cy="202.8" r="1.55"/><circle cx="176.6" cy="207.7" r="1.55"/><circle cx="177.0" cy="200.5" r="1.55"/><circle cx="177.5" cy="201.3" r="1.55"/><circle cx="177.9" cy="193.2" r="1.55"/><circle cx="178.4" cy="195.3" r="1.55"/><circle cx="178.8" cy="183.4" r="1.55"/><circle cx="179.2" cy="182.7" r="1.55"/><circle cx="179.7" cy="198.1" r="1.55"/><circle cx="180.1" cy="191.6" r="1.55"/><circle cx="180.6" cy="201.9" r="1.55"/><circle cx="181.0" cy="193.3" r="1.55"/><circle cx="181.4" cy="190.2" r="1.55"/><circle cx="181.9" cy="195.0" r="1.55"/><circle cx="182.3" cy="198.2" r="1.55"/><circle cx="182.8" cy="192.9" r="1.55"/><circle cx="183.2" cy="186.2" r="1.55"/><circle cx="183.6" cy="191.5" r="1.55"/><circle cx="184.1" cy="194.6" r="1.55"/><circle cx="184.5" cy="187.4" r="1.55"/><circle cx="185.0" cy="185.9" r="1.55"/><circle cx="185.4" cy="191.9" r="1.55"/><circle cx="185.8" cy="188.2" r="1.55"/><circle cx="186.3" cy="183.3" r="1.55"/><circle cx="186.7" cy="185.4" r="1.55"/><circle cx="187.2" cy="183.6" r="1.55"/><circle cx="187.6" cy="186.8" r="1.55"/><circle cx="188.1" cy="186.1" r="1.55"/><circle cx="188.5" cy="188.6" r="1.55"/><circle cx="188.9" cy="186.5" r="1.55"/><circle cx="189.4" cy="177.8" r="1.55"/><circle cx="189.8" cy="184.2" r="1.55"/><circle cx="190.3" cy="185.3" r="1.55"/><circle cx="190.7" cy="183.1" r="1.55"/><circle cx="191.1" cy="184.5" r="1.55"/><circle cx="191.6" cy="178.4" r="1.55"/><circle cx="192.0" cy="176.4" r="1.55"/><circle cx="192.5" cy="182.3" r="1.55"/><circle cx="192.9" cy="174.7" r="1.55"/><circle cx="193.3" cy="170.4" r="1.55"/><circle cx="193.8" cy="180.8" r="1.55"/><circle cx="194.2" cy="174.1" r="1.55"/><circle cx="194.7" cy="175.1" r="1.55"/><circle cx="195.1" cy="170.8" r="1.55"/><circle cx="195.5" cy="170.6" r="1.55"/><circle cx="196.0" cy="170.8" r="1.55"/><circle cx="196.4" cy="173.0" r="1.55"/><circle cx="196.9" cy="175.0" r="1.55"/><circle cx="197.3" cy="165.5" r="1.55"/><circle cx="197.7" cy="175.4" r="1.55"/><circle cx="198.2" cy="168.4" r="1.55"/><circle cx="198.6" cy="168.3" r="1.55"/><circle cx="199.1" cy="173.7" r="1.55"/><circle cx="199.5" cy="170.7" r="1.55"/><circle cx="199.9" cy="165.3" r="1.55"/><circle cx="200.4" cy="176.2" r="1.55"/><circle cx="200.8" cy="166.7" r="1.55"/><circle cx="201.3" cy="169.9" r="1.55"/><circle cx="201.7" cy="169.3" r="1.55"/><circle cx="202.2" cy="172.8" r="1.55"/><circle cx="202.6" cy="166.2" r="1.55"/><circle cx="203.0" cy="175.0" r="1.55"/><circle cx="203.5" cy="164.3" r="1.55"/><circle cx="203.9" cy="169.9" r="1.55"/><circle cx="204.4" cy="163.3" r="1.55"/><circle cx="204.8" cy="164.1" r="1.55"/><circle cx="205.2" cy="179.3" r="1.55"/><circle cx="205.7" cy="165.2" r="1.55"/><circle cx="206.1" cy="163.9" r="1.55"/><circle cx="206.6" cy="170.2" r="1.55"/><circle cx="207.0" cy="163.6" r="1.55"/><circle cx="207.4" cy="159.2" r="1.55"/><circle cx="207.9" cy="166.7" r="1.55"/><circle cx="208.3" cy="156.8" r="1.55"/><circle cx="208.8" cy="163.6" r="1.55"/><circle cx="209.2" cy="163.3" r="1.55"/><circle cx="209.6" cy="157.0" r="1.55"/><circle cx="210.1" cy="156.2" r="1.55"/><circle cx="210.5" cy="158.2" r="1.55"/><circle cx="211.0" cy="157.1" r="1.55"/><circle cx="211.4" cy="153.4" r="1.55"/><circle cx="211.8" cy="157.6" r="1.55"/><circle cx="212.3" cy="148.9" r="1.55"/><circle cx="212.7" cy="153.3" r="1.55"/><circle cx="213.2" cy="152.8" r="1.55"/><circle cx="213.6" cy="152.6" r="1.55"/><circle cx="214.1" cy="153.8" r="1.55"/><circle cx="214.5" cy="148.5" r="1.55"/><circle cx="214.9" cy="153.5" r="1.55"/><circle cx="215.4" cy="150.5" r="1.55"/><circle cx="215.8" cy="148.5" r="1.55"/><circle cx="216.3" cy="145.8" r="1.55"/><circle cx="216.7" cy="145.9" r="1.55"/><circle cx="217.1" cy="150.1" r="1.55"/><circle cx="217.6" cy="145.6" r="1.55"/><circle cx="218.0" cy="148.2" r="1.55"/><circle cx="218.5" cy="150.7" r="1.55"/><circle cx="218.9" cy="150.1" r="1.55"/><circle cx="219.3" cy="157.5" r="1.55"/><circle cx="219.8" cy="145.1" r="1.55"/><circle cx="220.2" cy="142.2" r="1.55"/><circle cx="220.7" cy="148.0" r="1.55"/><circle cx="221.1" cy="146.6" r="1.55"/><circle cx="221.5" cy="147.3" r="1.55"/><circle cx="222.0" cy="143.5" r="1.55"/><circle cx="222.4" cy="146.5" r="1.55"/><circle cx="222.9" cy="144.9" r="1.55"/><circle cx="223.3" cy="144.0" r="1.55"/><circle cx="223.7" cy="142.9" r="1.55"/><circle cx="224.2" cy="142.1" r="1.55"/><circle cx="224.6" cy="141.1" r="1.55"/><circle cx="225.1" cy="140.6" r="1.55"/><circle cx="225.5" cy="142.3" r="1.55"/><circle cx="225.9" cy="135.5" r="1.55"/><circle cx="226.4" cy="143.4" r="1.55"/><circle cx="226.8" cy="137.6" r="1.55"/><circle cx="227.3" cy="140.3" r="1.55"/><circle cx="227.7" cy="136.7" r="1.55"/><circle cx="228.2" cy="135.8" r="1.55"/><circle cx="228.6" cy="141.7" r="1.55"/><circle cx="229.0" cy="134.6" r="1.55"/><circle cx="229.5" cy="131.4" r="1.55"/><circle cx="229.9" cy="132.5" r="1.55"/><circle cx="230.4" cy="133.2" r="1.55"/><circle cx="230.8" cy="139.5" r="1.55"/><circle cx="231.2" cy="133.6" r="1.55"/><circle cx="231.7" cy="138.7" r="1.55"/><circle cx="232.1" cy="129.4" r="1.55"/><circle cx="232.6" cy="132.6" r="1.55"/><circle cx="233.0" cy="133.0" r="1.55"/><circle cx="233.4" cy="135.5" r="1.55"/><circle cx="233.9" cy="128.3" r="1.55"/><circle cx="234.3" cy="131.3" r="1.55"/><circle cx="234.8" cy="130.0" r="1.55"/><circle cx="235.2" cy="126.0" r="1.55"/><circle cx="235.6" cy="128.2" r="1.55"/><circle cx="236.1" cy="127.0" r="1.55"/><circle cx="236.5" cy="121.1" r="1.55"/><circle cx="237.0" cy="128.3" r="1.55"/><circle cx="237.4" cy="129.7" r="1.55"/><circle cx="237.8" cy="124.8" r="1.55"/><circle cx="238.3" cy="122.0" r="1.55"/><circle cx="238.7" cy="129.0" r="1.55"/><circle cx="239.2" cy="125.4" r="1.55"/><circle cx="239.6" cy="127.0" r="1.55"/><circle cx="240.0" cy="127.6" r="1.55"/><circle cx="240.5" cy="122.2" r="1.55"/><circle cx="240.9" cy="125.2" r="1.55"/><circle cx="241.4" cy="122.1" r="1.55"/><circle cx="241.8" cy="122.2" r="1.55"/><circle cx="242.3" cy="121.7" r="1.55"/><circle cx="242.7" cy="121.5" r="1.55"/><circle cx="243.1" cy="123.9" r="1.55"/><circle cx="243.6" cy="121.0" r="1.55"/><circle cx="244.0" cy="119.9" r="1.55"/><circle cx="244.5" cy="119.2" r="1.55"/><circle cx="244.9" cy="120.4" r="1.55"/><circle cx="245.3" cy="116.9" r="1.55"/><circle cx="245.8" cy="115.8" r="1.55"/><circle cx="246.2" cy="118.0" r="1.55"/><circle cx="246.7" cy="116.5" r="1.55"/><circle cx="247.1" cy="117.2" r="1.55"/><circle cx="247.5" cy="115.6" r="1.55"/><circle cx="248.0" cy="121.6" r="1.55"/><circle cx="248.4" cy="124.0" r="1.55"/><circle cx="248.9" cy="117.3" r="1.55"/><circle cx="249.3" cy="115.8" r="1.55"/><circle cx="249.7" cy="120.9" r="1.55"/><circle cx="250.2" cy="116.2" r="1.55"/><circle cx="250.6" cy="114.9" r="1.55"/><circle cx="251.1" cy="115.6" r="1.55"/><circle cx="251.5" cy="115.3" r="1.55"/><circle cx="251.9" cy="117.6" r="1.55"/><circle cx="252.4" cy="114.0" r="1.55"/><circle cx="252.8" cy="118.7" r="1.55"/><circle cx="253.3" cy="108.7" r="1.55"/><circle cx="253.7" cy="114.9" r="1.55"/><circle cx="254.1" cy="110.7" r="1.55"/><circle cx="254.6" cy="116.9" r="1.55"/><circle cx="255.0" cy="110.7" r="1.55"/><circle cx="255.5" cy="112.0" r="1.55"/><circle cx="255.9" cy="114.0" r="1.55"/><circle cx="256.4" cy="114.5" r="1.55"/><circle cx="256.8" cy="108.9" r="1.55"/><circle cx="257.2" cy="110.3" r="1.55"/><circle cx="257.7" cy="107.8" r="1.55"/><circle cx="258.1" cy="110.9" r="1.55"/><circle cx="258.6" cy="110.1" r="1.55"/><circle cx="259.0" cy="108.2" r="1.55"/><circle cx="259.4" cy="108.3" r="1.55"/><circle cx="259.9" cy="108.6" r="1.55"/><circle cx="260.3" cy="107.6" r="1.55"/><circle cx="260.8" cy="110.0" r="1.55"/><circle cx="261.2" cy="111.8" r="1.55"/><circle cx="261.6" cy="104.2" r="1.55"/><circle cx="262.1" cy="107.8" r="1.55"/><circle cx="262.5" cy="106.9" r="1.55"/><circle cx="263.0" cy="108.5" r="1.55"/><circle cx="263.4" cy="105.2" r="1.55"/><circle cx="263.8" cy="106.6" r="1.55"/><circle cx="264.3" cy="104.4" r="1.55"/><circle cx="264.7" cy="107.7" r="1.55"/><circle cx="265.2" cy="106.2" r="1.55"/><circle cx="265.6" cy="105.4" r="1.55"/><circle cx="266.0" cy="106.2" r="1.55"/><circle cx="266.5" cy="104.6" r="1.55"/><circle cx="266.9" cy="101.8" r="1.55"/><circle cx="267.4" cy="105.7" r="1.55"/><circle cx="267.8" cy="104.8" r="1.55"/><circle cx="268.3" cy="103.7" r="1.55"/><circle cx="268.7" cy="105.6" r="1.55"/><circle cx="269.1" cy="105.8" r="1.55"/><circle cx="269.6" cy="101.0" r="1.55"/><circle cx="270.0" cy="101.3" r="1.55"/><circle cx="270.5" cy="105.5" r="1.55"/><circle cx="270.9" cy="104.9" r="1.55"/><circle cx="271.3" cy="100.6" r="1.55"/><circle cx="271.8" cy="99.4" r="1.55"/><circle cx="272.2" cy="100.2" r="1.55"/><circle cx="272.7" cy="100.2" r="1.55"/><circle cx="273.1" cy="97.9" r="1.55"/><circle cx="273.5" cy="100.6" r="1.55"/><circle cx="274.0" cy="94.7" r="1.55"/><circle cx="274.4" cy="97.8" r="1.55"/><circle cx="274.9" cy="101.3" r="1.55"/><circle cx="275.3" cy="98.2" r="1.55"/><circle cx="275.7" cy="99.0" r="1.55"/><circle cx="276.2" cy="100.0" r="1.55"/><circle cx="276.6" cy="100.1" r="1.55"/><circle cx="277.1" cy="97.0" r="1.55"/><circle cx="277.5" cy="98.3" r="1.55"/><circle cx="277.9" cy="96.4" r="1.55"/><circle cx="278.4" cy="100.6" r="1.55"/><circle cx="278.8" cy="98.4" r="1.55"/><circle cx="279.3" cy="95.2" r="1.55"/><circle cx="279.7" cy="96.8" r="1.55"/><circle cx="280.1" cy="97.7" r="1.55"/><circle cx="280.6" cy="97.0" r="1.55"/><circle cx="281.0" cy="99.0" r="1.55"/><circle cx="281.5" cy="101.0" r="1.55"/><circle cx="281.9" cy="94.6" r="1.55"/><circle cx="282.4" cy="95.0" r="1.55"/><circle cx="282.8" cy="92.9" r="1.55"/><circle cx="283.2" cy="95.0" r="1.55"/><circle cx="283.7" cy="94.6" r="1.55"/><circle cx="284.1" cy="104.0" r="1.55"/><circle cx="284.6" cy="94.0" r="1.55"/><circle cx="285.0" cy="90.4" r="1.55"/><circle cx="285.4" cy="92.3" r="1.55"/><circle cx="285.9" cy="93.2" r="1.55"/><circle cx="286.3" cy="90.9" r="1.55"/><circle cx="286.8" cy="91.2" r="1.55"/><circle cx="287.2" cy="91.7" r="1.55"/><circle cx="287.6" cy="92.5" r="1.55"/><circle cx="288.1" cy="91.5" r="1.55"/><circle cx="288.5" cy="90.3" r="1.55"/><circle cx="289.0" cy="92.4" r="1.55"/><circle cx="289.4" cy="90.4" r="1.55"/><circle cx="289.8" cy="89.3" r="1.55"/><circle cx="290.3" cy="86.2" r="1.55"/><circle cx="290.7" cy="89.4" r="1.55"/><circle cx="291.2" cy="91.1" r="1.55"/><circle cx="291.6" cy="87.9" r="1.55"/><circle cx="292.0" cy="89.7" r="1.55"/><circle cx="292.5" cy="90.5" r="1.55"/><circle cx="292.9" cy="88.9" r="1.55"/><circle cx="293.4" cy="89.9" r="1.55"/><circle cx="293.8" cy="87.5" r="1.55"/><circle cx="294.2" cy="90.4" r="1.55"/><circle cx="294.7" cy="89.9" r="1.55"/><circle cx="295.1" cy="88.6" r="1.55"/><circle cx="295.6" cy="86.0" r="1.55"/><circle cx="296.0" cy="86.6" r="1.55"/><circle cx="296.5" cy="90.4" r="1.55"/><circle cx="296.9" cy="89.5" r="1.55"/><circle cx="297.3" cy="87.6" r="1.55"/><circle cx="297.8" cy="88.4" r="1.55"/><circle cx="298.2" cy="86.1" r="1.55"/><circle cx="298.7" cy="86.4" r="1.55"/><circle cx="299.1" cy="86.4" r="1.55"/><circle cx="299.5" cy="87.2" r="1.55"/><circle cx="300.0" cy="84.3" r="1.55"/><circle cx="300.4" cy="86.7" r="1.55"/><circle cx="300.9" cy="88.7" r="1.55"/><circle cx="301.3" cy="84.1" r="1.55"/><circle cx="301.7" cy="83.8" r="1.55"/><circle cx="302.2" cy="85.3" r="1.55"/><circle cx="302.6" cy="84.2" r="1.55"/><circle cx="303.1" cy="82.4" r="1.55"/><circle cx="303.5" cy="85.3" r="1.55"/><circle cx="303.9" cy="84.5" r="1.55"/><circle cx="304.4" cy="83.8" r="1.55"/><circle cx="304.8" cy="88.4" r="1.55"/><circle cx="305.3" cy="84.2" r="1.55"/><circle cx="305.7" cy="83.1" r="1.55"/><circle cx="306.1" cy="83.7" r="1.55"/><circle cx="306.6" cy="81.5" r="1.55"/><circle cx="307.0" cy="82.7" r="1.55"/><circle cx="307.5" cy="83.4" r="1.55"/><circle cx="307.9" cy="82.6" r="1.55"/><circle cx="308.3" cy="82.5" r="1.55"/><circle cx="308.8" cy="83.9" r="1.55"/><circle cx="309.2" cy="83.1" r="1.55"/><circle cx="309.7" cy="83.6" r="1.55"/><circle cx="310.1" cy="82.6" r="1.55"/><circle cx="310.6" cy="82.4" r="1.55"/><circle cx="311.0" cy="83.9" r="1.55"/><circle cx="311.4" cy="81.8" r="1.55"/><circle cx="311.9" cy="82.6" r="1.55"/><circle cx="312.3" cy="81.0" r="1.55"/><circle cx="312.8" cy="81.2" r="1.55"/><circle cx="313.2" cy="80.5" r="1.55"/><circle cx="313.6" cy="80.9" r="1.55"/><circle cx="314.1" cy="81.1" r="1.55"/><circle cx="314.5" cy="81.2" r="1.55"/><circle cx="315.0" cy="80.4" r="1.55"/><circle cx="315.4" cy="80.4" r="1.55"/></g>
<g class="s" fill="none" stroke="#0054a4" stroke-width="1"><circle cx="58.9" cy="400.8" r="1.55"/><circle cx="59.4" cy="397.6" r="1.55"/><circle cx="59.8" cy="395.5" r="1.55"/><circle cx="60.3" cy="391.6" r="1.55"/><circle cx="60.7" cy="390.3" r="1.55"/><circle cx="61.1" cy="388.3" r="1.55"/><circle cx="61.6" cy="386.1" r="1.55"/><circle cx="62.0" cy="384.8" r="1.55"/><circle cx="62.5" cy="382.6" r="1.55"/><circle cx="62.9" cy="380.4" r="1.55"/><circle cx="63.3" cy="378.2" r="1.55"/><circle cx="63.8" cy="376.7" r="1.55"/><circle cx="64.2" cy="373.1" r="1.55"/><circle cx="64.6" cy="372.6" r="1.55"/><circle cx="65.1" cy="373.2" r="1.55"/><circle cx="65.5" cy="371.5" r="1.55"/><circle cx="66.0" cy="367.6" r="1.55"/><circle cx="66.4" cy="366.1" r="1.55"/><circle cx="66.8" cy="364.8" r="1.55"/><circle cx="67.3" cy="364.9" r="1.55"/><circle cx="67.7" cy="361.8" r="1.55"/><circle cx="68.2" cy="362.6" r="1.55"/><circle cx="68.6" cy="357.9" r="1.55"/><circle cx="69.0" cy="357.7" r="1.55"/><circle cx="69.5" cy="356.0" r="1.55"/><circle cx="69.9" cy="356.7" r="1.55"/><circle cx="70.4" cy="355.9" r="1.55"/><circle cx="70.8" cy="347.4" r="1.55"/><circle cx="71.2" cy="350.9" r="1.55"/><circle cx="71.7" cy="352.1" r="1.55"/><circle cx="72.1" cy="349.5" r="1.55"/><circle cx="72.6" cy="347.0" r="1.55"/><circle cx="73.0" cy="350.9" r="1.55"/><circle cx="73.4" cy="349.0" r="1.55"/><circle cx="73.9" cy="349.5" r="1.55"/><circle cx="74.3" cy="344.0" r="1.55"/><circle cx="74.7" cy="347.6" r="1.55"/><circle cx="75.2" cy="344.0" r="1.55"/><circle cx="75.6" cy="349.3" r="1.55"/><circle cx="76.1" cy="340.8" r="1.55"/><circle cx="76.5" cy="340.0" r="1.55"/><circle cx="76.9" cy="341.7" r="1.55"/><circle cx="77.4" cy="338.7" r="1.55"/><circle cx="77.8" cy="341.2" r="1.55"/><circle cx="78.3" cy="340.2" r="1.55"/><circle cx="78.7" cy="335.5" r="1.55"/><circle cx="79.1" cy="337.2" r="1.55"/><circle cx="79.6" cy="335.3" r="1.55"/><circle cx="80.0" cy="337.8" r="1.55"/><circle cx="80.5" cy="330.5" r="1.55"/><circle cx="80.9" cy="332.5" r="1.55"/><circle cx="81.3" cy="336.3" r="1.55"/><circle cx="81.8" cy="338.5" r="1.55"/><circle cx="82.2" cy="337.0" r="1.55"/><circle cx="82.7" cy="330.6" r="1.55"/><circle cx="83.1" cy="331.2" r="1.55"/><circle cx="83.5" cy="333.6" r="1.55"/><circle cx="84.0" cy="327.8" r="1.55"/><circle cx="84.4" cy="324.4" r="1.55"/><circle cx="84.8" cy="327.0" r="1.55"/><circle cx="85.3" cy="327.4" r="1.55"/><circle cx="85.7" cy="322.4" r="1.55"/><circle cx="86.2" cy="319.0" r="1.55"/><circle cx="86.6" cy="312.3" r="1.55"/><circle cx="87.0" cy="325.1" r="1.55"/><circle cx="87.5" cy="319.5" r="1.55"/><circle cx="87.9" cy="320.9" r="1.55"/><circle cx="88.4" cy="321.4" r="1.55"/><circle cx="88.8" cy="322.0" r="1.55"/><circle cx="89.2" cy="317.9" r="1.55"/><circle cx="89.7" cy="320.3" r="1.55"/><circle cx="90.1" cy="314.5" r="1.55"/><circle cx="90.6" cy="313.9" r="1.55"/><circle cx="91.0" cy="312.5" r="1.55"/><circle cx="91.4" cy="320.0" r="1.55"/><circle cx="91.9" cy="314.9" r="1.55"/><circle cx="92.3" cy="307.5" r="1.55"/><circle cx="92.7" cy="312.2" r="1.55"/><circle cx="93.2" cy="312.0" r="1.55"/><circle cx="93.6" cy="315.0" r="1.55"/><circle cx="94.1" cy="305.1" r="1.55"/><circle cx="94.5" cy="306.6" r="1.55"/><circle cx="94.9" cy="308.6" r="1.55"/><circle cx="95.4" cy="320.0" r="1.55"/><circle cx="95.8" cy="312.8" r="1.55"/><circle cx="96.3" cy="307.7" r="1.55"/><circle cx="96.7" cy="310.8" r="1.55"/><circle cx="97.1" cy="316.2" r="1.55"/><circle cx="97.6" cy="305.8" r="1.55"/><circle cx="98.0" cy="304.7" r="1.55"/><circle cx="98.5" cy="311.1" r="1.55"/><circle cx="98.9" cy="307.5" r="1.55"/><circle cx="99.3" cy="311.7" r="1.55"/><circle cx="99.8" cy="302.2" r="1.55"/><circle cx="100.2" cy="312.2" r="1.55"/><circle cx="100.7" cy="310.8" r="1.55"/><circle cx="101.1" cy="305.4" r="1.55"/><circle cx="101.5" cy="305.4" r="1.55"/><circle cx="102.0" cy="281.8" r="1.55"/><circle cx="102.4" cy="304.3" r="1.55"/><circle cx="102.8" cy="299.1" r="1.55"/><circle cx="103.3" cy="302.4" r="1.55"/><circle cx="103.7" cy="303.0" r="1.55"/><circle cx="104.2" cy="298.2" r="1.55"/><circle cx="104.6" cy="282.5" r="1.55"/><circle cx="105.0" cy="300.2" r="1.55"/><circle cx="105.5" cy="295.1" r="1.55"/><circle cx="105.9" cy="294.5" r="1.55"/><circle cx="106.4" cy="294.8" r="1.55"/><circle cx="106.8" cy="295.4" r="1.55"/><circle cx="107.2" cy="286.7" r="1.55"/><circle cx="107.7" cy="300.9" r="1.55"/><circle cx="108.1" cy="296.4" r="1.55"/><circle cx="108.6" cy="299.5" r="1.55"/><circle cx="109.0" cy="302.6" r="1.55"/><circle cx="109.4" cy="294.1" r="1.55"/><circle cx="109.9" cy="286.2" r="1.55"/><circle cx="110.3" cy="289.4" r="1.55"/><circle cx="110.8" cy="281.0" r="1.55"/><circle cx="111.2" cy="290.1" r="1.55"/><circle cx="111.6" cy="292.0" r="1.55"/><circle cx="112.1" cy="283.1" r="1.55"/><circle cx="112.5" cy="292.2" r="1.55"/><circle cx="112.9" cy="284.2" r="1.55"/><circle cx="113.4" cy="291.1" r="1.55"/><circle cx="113.8" cy="289.0" r="1.55"/><circle cx="114.3" cy="286.0" r="1.55"/><circle cx="114.7" cy="288.2" r="1.55"/><circle cx="115.1" cy="283.0" r="1.55"/><circle cx="115.6" cy="285.2" r="1.55"/><circle cx="116.0" cy="280.4" r="1.55"/><circle cx="116.5" cy="286.6" r="1.55"/><circle cx="116.9" cy="293.6" r="1.55"/><circle cx="117.3" cy="293.7" r="1.55"/><circle cx="117.8" cy="290.6" r="1.55"/><circle cx="118.2" cy="291.4" r="1.55"/><circle cx="118.7" cy="281.7" r="1.55"/><circle cx="119.1" cy="289.6" r="1.55"/><circle cx="119.5" cy="283.3" r="1.55"/><circle cx="120.0" cy="282.4" r="1.55"/><circle cx="120.4" cy="281.5" r="1.55"/><circle cx="120.9" cy="282.5" r="1.55"/><circle cx="121.3" cy="280.0" r="1.55"/><circle cx="121.7" cy="281.0" r="1.55"/><circle cx="122.2" cy="276.7" r="1.55"/><circle cx="122.6" cy="279.0" r="1.55"/><circle cx="123.0" cy="288.9" r="1.55"/><circle cx="123.5" cy="279.0" r="1.55"/><circle cx="123.9" cy="278.3" r="1.55"/><circle cx="124.4" cy="283.6" r="1.55"/><circle cx="124.8" cy="281.1" r="1.55"/><circle cx="125.2" cy="273.7" r="1.55"/><circle cx="125.7" cy="276.7" r="1.55"/><circle cx="126.1" cy="280.6" r="1.55"/><circle cx="126.6" cy="277.7" r="1.55"/><circle cx="127.0" cy="276.7" r="1.55"/><circle cx="127.4" cy="281.7" r="1.55"/><circle cx="127.9" cy="272.8" r="1.55"/><circle cx="128.3" cy="275.3" r="1.55"/><circle cx="128.8" cy="272.6" r="1.55"/><circle cx="129.2" cy="287.3" r="1.55"/><circle cx="129.6" cy="266.4" r="1.55"/><circle cx="130.1" cy="270.8" r="1.55"/><circle cx="130.5" cy="268.2" r="1.55"/><circle cx="130.9" cy="274.9" r="1.55"/><circle cx="131.4" cy="274.3" r="1.55"/><circle cx="131.8" cy="276.8" r="1.55"/><circle cx="132.3" cy="265.4" r="1.55"/><circle cx="132.7" cy="277.3" r="1.55"/><circle cx="133.1" cy="267.8" r="1.55"/><circle cx="133.6" cy="267.5" r="1.55"/><circle cx="134.0" cy="274.1" r="1.55"/><circle cx="134.5" cy="265.7" r="1.55"/><circle cx="134.9" cy="261.1" r="1.55"/><circle cx="135.3" cy="267.0" r="1.55"/><circle cx="135.8" cy="262.5" r="1.55"/><circle cx="136.2" cy="262.0" r="1.55"/><circle cx="136.7" cy="268.5" r="1.55"/><circle cx="137.1" cy="267.9" r="1.55"/><circle cx="137.5" cy="279.8" r="1.55"/><circle cx="138.0" cy="265.3" r="1.55"/><circle cx="138.4" cy="252.7" r="1.55"/><circle cx="138.9" cy="262.5" r="1.55"/><circle cx="139.3" cy="261.6" r="1.55"/><circle cx="139.7" cy="260.1" r="1.55"/><circle cx="140.2" cy="265.6" r="1.55"/><circle cx="140.6" cy="261.4" r="1.55"/><circle cx="141.0" cy="256.3" r="1.55"/><circle cx="141.5" cy="265.4" r="1.55"/><circle cx="141.9" cy="262.1" r="1.55"/><circle cx="142.4" cy="265.1" r="1.55"/><circle cx="142.8" cy="262.1" r="1.55"/><circle cx="143.2" cy="263.6" r="1.55"/><circle cx="143.7" cy="261.3" r="1.55"/><circle cx="144.1" cy="264.9" r="1.55"/><circle cx="144.6" cy="261.7" r="1.55"/><circle cx="145.0" cy="261.2" r="1.55"/><circle cx="145.4" cy="260.9" r="1.55"/><circle cx="145.9" cy="254.1" r="1.55"/><circle cx="146.3" cy="258.1" r="1.55"/><circle cx="146.8" cy="257.4" r="1.55"/><circle cx="147.2" cy="258.6" r="1.55"/><circle cx="147.6" cy="252.9" r="1.55"/><circle cx="148.1" cy="262.7" r="1.55"/><circle cx="148.5" cy="257.1" r="1.55"/><circle cx="149.0" cy="252.3" r="1.55"/><circle cx="149.4" cy="250.2" r="1.55"/><circle cx="149.8" cy="254.6" r="1.55"/><circle cx="150.3" cy="254.9" r="1.55"/><circle cx="150.7" cy="249.2" r="1.55"/><circle cx="151.1" cy="254.7" r="1.55"/><circle cx="151.6" cy="251.9" r="1.55"/><circle cx="152.0" cy="255.5" r="1.55"/><circle cx="152.5" cy="250.9" r="1.55"/><circle cx="152.9" cy="252.8" r="1.55"/><circle cx="153.3" cy="255.7" r="1.55"/><circle cx="153.8" cy="260.5" r="1.55"/><circle cx="154.2" cy="248.4" r="1.55"/><circle cx="154.7" cy="249.8" r="1.55"/><circle cx="155.1" cy="248.2" r="1.55"/><circle cx="155.5" cy="253.1" r="1.55"/><circle cx="156.0" cy="246.5" r="1.55"/><circle cx="156.4" cy="246.1" r="1.55"/><circle cx="156.9" cy="249.3" r="1.55"/><circle cx="157.3" cy="245.9" r="1.55"/><circle cx="157.7" cy="245.6" r="1.55"/><circle cx="158.2" cy="246.7" r="1.55"/><circle cx="158.6" cy="241.2" r="1.55"/><circle cx="159.1" cy="242.9" r="1.55"/><circle cx="159.5" cy="245.7" r="1.55"/><circle cx="159.9" cy="247.0" r="1.55"/><circle cx="160.4" cy="245.5" r="1.55"/><circle cx="160.8" cy="240.1" r="1.55"/><circle cx="161.2" cy="243.7" r="1.55"/><circle cx="161.7" cy="250.6" r="1.55"/><circle cx="162.1" cy="246.0" r="1.55"/><circle cx="162.6" cy="243.6" r="1.55"/><circle cx="163.0" cy="240.6" r="1.55"/><circle cx="163.4" cy="244.8" r="1.55"/><circle cx="163.9" cy="240.7" r="1.55"/><circle cx="164.3" cy="233.6" r="1.55"/><circle cx="164.8" cy="239.2" r="1.55"/><circle cx="165.2" cy="245.8" r="1.55"/><circle cx="165.6" cy="241.7" r="1.55"/><circle cx="166.1" cy="244.2" r="1.55"/><circle cx="166.5" cy="239.0" r="1.55"/><circle cx="167.0" cy="242.9" r="1.55"/><circle cx="167.4" cy="238.0" r="1.55"/><circle cx="167.8" cy="239.0" r="1.55"/><circle cx="168.3" cy="246.6" r="1.55"/><circle cx="168.7" cy="244.2" r="1.55"/><circle cx="169.2" cy="237.1" r="1.55"/><circle cx="169.6" cy="238.0" r="1.55"/><circle cx="170.0" cy="238.9" r="1.55"/><circle cx="170.5" cy="241.2" r="1.55"/><circle cx="170.9" cy="234.0" r="1.55"/><circle cx="171.3" cy="232.0" r="1.55"/><circle cx="171.8" cy="235.9" r="1.55"/><circle cx="172.2" cy="236.4" r="1.55"/><circle cx="172.7" cy="236.4" r="1.55"/><circle cx="173.1" cy="239.5" r="1.55"/><circle cx="173.5" cy="236.4" r="1.55"/><circle cx="174.0" cy="237.5" r="1.55"/><circle cx="174.4" cy="231.7" r="1.55"/><circle cx="174.9" cy="237.0" r="1.55"/><circle cx="175.3" cy="240.1" r="1.55"/><circle cx="175.7" cy="236.1" r="1.55"/><circle cx="176.2" cy="234.3" r="1.55"/><circle cx="176.6" cy="233.7" r="1.55"/><circle cx="177.1" cy="237.9" r="1.55"/><circle cx="177.5" cy="230.1" r="1.55"/><circle cx="177.9" cy="232.1" r="1.55"/><circle cx="178.4" cy="235.1" r="1.55"/><circle cx="178.8" cy="233.9" r="1.55"/><circle cx="179.2" cy="230.3" r="1.55"/><circle cx="179.7" cy="232.1" r="1.55"/><circle cx="180.1" cy="229.2" r="1.55"/><circle cx="180.6" cy="231.0" r="1.55"/><circle cx="181.0" cy="230.0" r="1.55"/><circle cx="181.4" cy="227.0" r="1.55"/><circle cx="181.9" cy="229.7" r="1.55"/><circle cx="182.3" cy="231.9" r="1.55"/><circle cx="182.8" cy="223.2" r="1.55"/><circle cx="183.2" cy="228.3" r="1.55"/><circle cx="183.6" cy="232.8" r="1.55"/><circle cx="184.1" cy="225.6" r="1.55"/><circle cx="184.5" cy="228.6" r="1.55"/><circle cx="185.0" cy="221.3" r="1.55"/><circle cx="185.4" cy="230.4" r="1.55"/><circle cx="185.8" cy="233.2" r="1.55"/><circle cx="186.3" cy="232.1" r="1.55"/><circle cx="186.7" cy="226.1" r="1.55"/><circle cx="187.2" cy="228.2" r="1.55"/><circle cx="187.6" cy="226.4" r="1.55"/><circle cx="188.0" cy="226.4" r="1.55"/><circle cx="188.5" cy="229.4" r="1.55"/><circle cx="188.9" cy="221.9" r="1.55"/><circle cx="189.3" cy="227.6" r="1.55"/><circle cx="189.8" cy="224.5" r="1.55"/><circle cx="190.2" cy="227.8" r="1.55"/><circle cx="190.7" cy="225.1" r="1.55"/><circle cx="191.1" cy="222.0" r="1.55"/><circle cx="191.5" cy="224.0" r="1.55"/><circle cx="192.0" cy="224.8" r="1.55"/><circle cx="192.4" cy="222.8" r="1.55"/><circle cx="192.9" cy="223.6" r="1.55"/><circle cx="193.3" cy="220.8" r="1.55"/><circle cx="193.7" cy="216.7" r="1.55"/><circle cx="194.2" cy="223.6" r="1.55"/><circle cx="194.6" cy="222.8" r="1.55"/><circle cx="195.1" cy="221.2" r="1.55"/><circle cx="195.5" cy="220.6" r="1.55"/><circle cx="195.9" cy="222.6" r="1.55"/><circle cx="196.4" cy="218.8" r="1.55"/><circle cx="196.8" cy="217.9" r="1.55"/><circle cx="197.3" cy="218.2" r="1.55"/><circle cx="197.7" cy="221.6" r="1.55"/><circle cx="198.1" cy="215.4" r="1.55"/><circle cx="198.6" cy="220.9" r="1.55"/><circle cx="199.0" cy="216.5" r="1.55"/><circle cx="199.4" cy="215.1" r="1.55"/><circle cx="199.9" cy="220.1" r="1.55"/><circle cx="200.3" cy="216.7" r="1.55"/><circle cx="200.8" cy="213.8" r="1.55"/><circle cx="201.2" cy="215.5" r="1.55"/><circle cx="201.6" cy="218.0" r="1.55"/><circle cx="202.1" cy="218.3" r="1.55"/><circle cx="202.5" cy="213.2" r="1.55"/><circle cx="203.0" cy="215.9" r="1.55"/><circle cx="203.4" cy="216.2" r="1.55"/><circle cx="203.8" cy="213.0" r="1.55"/><circle cx="204.3" cy="214.8" r="1.55"/><circle cx="204.7" cy="213.7" r="1.55"/><circle cx="205.2" cy="212.3" r="1.55"/><circle cx="205.6" cy="212.1" r="1.55"/><circle cx="206.0" cy="212.9" r="1.55"/><circle cx="206.5" cy="212.5" r="1.55"/><circle cx="206.9" cy="211.0" r="1.55"/><circle cx="207.4" cy="210.9" r="1.55"/><circle cx="207.8" cy="213.7" r="1.55"/><circle cx="208.2" cy="211.6" r="1.55"/><circle cx="208.7" cy="212.6" r="1.55"/><circle cx="209.1" cy="212.9" r="1.55"/><circle cx="209.5" cy="211.3" r="1.55"/><circle cx="210.0" cy="214.3" r="1.55"/><circle cx="210.4" cy="207.9" r="1.55"/><circle cx="210.9" cy="210.8" r="1.55"/><circle cx="211.3" cy="208.3" r="1.55"/><circle cx="211.7" cy="212.1" r="1.55"/><circle cx="212.2" cy="211.5" r="1.55"/><circle cx="212.6" cy="204.2" r="1.55"/><circle cx="213.1" cy="205.8" r="1.55"/><circle cx="213.5" cy="208.5" r="1.55"/><circle cx="213.9" cy="208.4" r="1.55"/><circle cx="214.4" cy="208.0" r="1.55"/><circle cx="214.8" cy="206.2" r="1.55"/><circle cx="215.3" cy="207.9" r="1.55"/><circle cx="215.7" cy="206.8" r="1.55"/><circle cx="216.1" cy="205.2" r="1.55"/><circle cx="216.6" cy="209.4" r="1.55"/><circle cx="217.0" cy="200.9" r="1.55"/><circle cx="217.5" cy="205.8" r="1.55"/><circle cx="217.9" cy="202.6" r="1.55"/><circle cx="218.3" cy="205.8" r="1.55"/><circle cx="218.8" cy="203.5" r="1.55"/><circle cx="219.2" cy="202.2" r="1.55"/><circle cx="219.6" cy="204.1" r="1.55"/><circle cx="220.1" cy="201.7" r="1.55"/><circle cx="220.5" cy="201.4" r="1.55"/><circle cx="221.0" cy="200.1" r="1.55"/><circle cx="221.4" cy="202.4" r="1.55"/><circle cx="221.8" cy="203.1" r="1.55"/><circle cx="222.3" cy="203.7" r="1.55"/><circle cx="222.7" cy="201.5" r="1.55"/><circle cx="223.2" cy="205.4" r="1.55"/><circle cx="223.6" cy="201.4" r="1.55"/><circle cx="224.0" cy="201.0" r="1.55"/><circle cx="224.5" cy="201.9" r="1.55"/><circle cx="224.9" cy="202.5" r="1.55"/><circle cx="225.4" cy="200.2" r="1.55"/><circle cx="225.8" cy="199.7" r="1.55"/><circle cx="226.2" cy="199.8" r="1.55"/><circle cx="226.7" cy="200.4" r="1.55"/><circle cx="227.1" cy="198.8" r="1.55"/><circle cx="227.6" cy="201.4" r="1.55"/><circle cx="228.0" cy="199.2" r="1.55"/><circle cx="228.4" cy="200.2" r="1.55"/><circle cx="228.9" cy="198.3" r="1.55"/><circle cx="229.3" cy="200.4" r="1.55"/><circle cx="229.7" cy="199.7" r="1.55"/><circle cx="230.2" cy="198.4" r="1.55"/><circle cx="230.6" cy="205.2" r="1.55"/><circle cx="231.1" cy="199.1" r="1.55"/><circle cx="231.5" cy="200.8" r="1.55"/><circle cx="231.9" cy="199.6" r="1.55"/><circle cx="232.4" cy="196.2" r="1.55"/><circle cx="232.8" cy="197.5" r="1.55"/><circle cx="233.3" cy="198.4" r="1.55"/><circle cx="233.7" cy="197.9" r="1.55"/><circle cx="234.1" cy="197.6" r="1.55"/><circle cx="234.6" cy="197.0" r="1.55"/><circle cx="235.0" cy="195.1" r="1.55"/><circle cx="235.5" cy="196.8" r="1.55"/><circle cx="235.9" cy="194.3" r="1.55"/><circle cx="236.3" cy="197.1" r="1.55"/><circle cx="236.8" cy="195.7" r="1.55"/><circle cx="237.2" cy="195.6" r="1.55"/><circle cx="237.6" cy="196.0" r="1.55"/><circle cx="238.1" cy="196.7" r="1.55"/><circle cx="238.5" cy="194.4" r="1.55"/><circle cx="239.0" cy="193.9" r="1.55"/><circle cx="239.4" cy="193.0" r="1.55"/><circle cx="239.8" cy="193.3" r="1.55"/><circle cx="240.3" cy="194.3" r="1.55"/><circle cx="240.7" cy="196.5" r="1.55"/><circle cx="241.2" cy="193.9" r="1.55"/><circle cx="241.6" cy="195.3" r="1.55"/><circle cx="242.0" cy="193.3" r="1.55"/><circle cx="242.5" cy="194.6" r="1.55"/><circle cx="242.9" cy="193.9" r="1.55"/><circle cx="243.4" cy="194.0" r="1.55"/><circle cx="243.8" cy="194.3" r="1.55"/><circle cx="244.2" cy="195.1" r="1.55"/><circle cx="244.7" cy="193.7" r="1.55"/><circle cx="245.1" cy="193.6" r="1.55"/><circle cx="245.6" cy="192.5" r="1.55"/><circle cx="246.0" cy="193.5" r="1.55"/><circle cx="246.4" cy="192.8" r="1.55"/><circle cx="246.9" cy="193.3" r="1.55"/><circle cx="247.3" cy="192.6" r="1.55"/><circle cx="247.7" cy="194.9" r="1.55"/><circle cx="248.2" cy="191.2" r="1.55"/><circle cx="248.6" cy="192.0" r="1.55"/><circle cx="249.1" cy="192.5" r="1.55"/><circle cx="249.5" cy="191.7" r="1.55"/><circle cx="249.9" cy="191.4" r="1.55"/><circle cx="250.4" cy="191.5" r="1.55"/><circle cx="250.8" cy="190.3" r="1.55"/><circle cx="251.3" cy="191.3" r="1.55"/><circle cx="251.7" cy="191.6" r="1.55"/></g>
<g class="s" fill="none" stroke="#4d6a79" stroke-width="1"><circle cx="58.9" cy="401.0" r="1.55"/><circle cx="59.4" cy="398.2" r="1.55"/><circle cx="59.8" cy="395.9" r="1.55"/><circle cx="60.3" cy="393.4" r="1.55"/><circle cx="60.7" cy="391.1" r="1.55"/><circle cx="61.1" cy="389.0" r="1.55"/><circle cx="61.6" cy="387.4" r="1.55"/><circle cx="62.0" cy="387.8" r="1.55"/><circle cx="62.5" cy="383.3" r="1.55"/><circle cx="62.9" cy="381.3" r="1.55"/><circle cx="63.3" cy="380.4" r="1.55"/><circle cx="63.8" cy="378.9" r="1.55"/><circle cx="64.2" cy="376.5" r="1.55"/><circle cx="64.7" cy="373.8" r="1.55"/><circle cx="65.1" cy="373.6" r="1.55"/><circle cx="65.5" cy="373.3" r="1.55"/><circle cx="66.0" cy="369.7" r="1.55"/><circle cx="66.4" cy="369.6" r="1.55"/><circle cx="66.9" cy="366.5" r="1.55"/><circle cx="67.3" cy="366.1" r="1.55"/><circle cx="67.7" cy="364.1" r="1.55"/><circle cx="68.2" cy="365.4" r="1.55"/><circle cx="68.6" cy="362.9" r="1.55"/><circle cx="69.1" cy="365.2" r="1.55"/><circle cx="69.5" cy="363.6" r="1.55"/><circle cx="69.9" cy="361.7" r="1.55"/><circle cx="70.4" cy="357.1" r="1.55"/><circle cx="70.8" cy="359.9" r="1.55"/><circle cx="71.3" cy="360.0" r="1.55"/><circle cx="71.7" cy="359.5" r="1.55"/><circle cx="72.1" cy="351.1" r="1.55"/><circle cx="72.6" cy="356.7" r="1.55"/><circle cx="73.0" cy="354.7" r="1.55"/><circle cx="73.5" cy="354.3" r="1.55"/><circle cx="73.9" cy="357.6" r="1.55"/><circle cx="74.3" cy="352.5" r="1.55"/><circle cx="74.8" cy="353.7" r="1.55"/><circle cx="75.2" cy="358.2" r="1.55"/><circle cx="75.7" cy="349.1" r="1.55"/><circle cx="76.1" cy="351.6" r="1.55"/><circle cx="76.5" cy="351.9" r="1.55"/><circle cx="77.0" cy="350.8" r="1.55"/><circle cx="77.4" cy="346.7" r="1.55"/><circle cx="77.9" cy="349.6" r="1.55"/><circle cx="78.3" cy="352.5" r="1.55"/><circle cx="78.7" cy="343.7" r="1.55"/><circle cx="79.2" cy="350.0" r="1.55"/><circle cx="79.6" cy="347.2" r="1.55"/><circle cx="80.1" cy="344.3" r="1.55"/><circle cx="80.5" cy="351.7" r="1.55"/><circle cx="80.9" cy="347.3" r="1.55"/><circle cx="81.4" cy="340.7" r="1.55"/><circle cx="81.8" cy="344.1" r="1.55"/><circle cx="82.3" cy="345.1" r="1.55"/><circle cx="82.7" cy="342.0" r="1.55"/><circle cx="83.1" cy="344.3" r="1.55"/><circle cx="83.6" cy="341.0" r="1.55"/><circle cx="84.0" cy="346.3" r="1.55"/><circle cx="84.5" cy="345.3" r="1.55"/><circle cx="84.9" cy="337.4" r="1.55"/><circle cx="85.3" cy="339.9" r="1.55"/><circle cx="85.8" cy="336.9" r="1.55"/><circle cx="86.2" cy="338.5" r="1.55"/><circle cx="86.7" cy="333.2" r="1.55"/><circle cx="87.1" cy="334.8" r="1.55"/><circle cx="87.5" cy="335.6" r="1.55"/><circle cx="88.0" cy="343.2" r="1.55"/><circle cx="88.4" cy="339.1" r="1.55"/><circle cx="88.9" cy="329.8" r="1.55"/><circle cx="89.3" cy="327.3" r="1.55"/><circle cx="89.7" cy="335.6" r="1.55"/><circle cx="90.2" cy="325.8" r="1.55"/><circle cx="90.6" cy="330.5" r="1.55"/><circle cx="91.1" cy="331.2" r="1.55"/><circle cx="91.5" cy="335.3" r="1.55"/><circle cx="91.9" cy="332.7" r="1.55"/><circle cx="92.4" cy="328.5" r="1.55"/><circle cx="92.8" cy="327.8" r="1.55"/><circle cx="93.3" cy="327.5" r="1.55"/><circle cx="93.7" cy="333.0" r="1.55"/><circle cx="94.1" cy="325.7" r="1.55"/><circle cx="94.6" cy="325.5" r="1.55"/><circle cx="95.0" cy="327.1" r="1.55"/><circle cx="95.5" cy="324.9" r="1.55"/><circle cx="95.9" cy="324.0" r="1.55"/><circle cx="96.3" cy="320.3" r="1.55"/><circle cx="96.8" cy="323.4" r="1.55"/><circle cx="97.2" cy="321.3" r="1.55"/><circle cx="97.7" cy="326.1" r="1.55"/><circle cx="98.1" cy="323.8" r="1.55"/><circle cx="98.5" cy="320.8" r="1.55"/><circle cx="99.0" cy="322.6" r="1.55"/><circle cx="99.4" cy="318.6" r="1.55"/><circle cx="99.9" cy="322.6" r="1.55"/><circle cx="100.3" cy="318.5" r="1.55"/><circle cx="100.7" cy="319.9" r="1.55"/><circle cx="101.2" cy="313.2" r="1.55"/><circle cx="101.6" cy="318.0" r="1.55"/><circle cx="102.1" cy="310.8" r="1.55"/><circle cx="102.5" cy="309.2" r="1.55"/><circle cx="102.9" cy="314.2" r="1.55"/><circle cx="103.4" cy="311.8" r="1.55"/><circle cx="103.8" cy="314.6" r="1.55"/><circle cx="104.3" cy="320.8" r="1.55"/><circle cx="104.7" cy="310.4" r="1.55"/><circle cx="105.1" cy="310.5" r="1.55"/><circle cx="105.6" cy="312.6" r="1.55"/><circle cx="106.0" cy="312.9" r="1.55"/><circle cx="106.5" cy="309.5" r="1.55"/><circle cx="106.9" cy="309.6" r="1.55"/><circle cx="107.3" cy="314.9" r="1.55"/><circle cx="107.8" cy="310.8" r="1.55"/><circle cx="108.2" cy="305.4" r="1.55"/><circle cx="108.7" cy="307.8" r="1.55"/><circle cx="109.1" cy="307.6" r="1.55"/><circle cx="109.5" cy="303.7" r="1.55"/><circle cx="110.0" cy="307.3" r="1.55"/><circle cx="110.4" cy="299.8" r="1.55"/><circle cx="110.9" cy="308.5" r="1.55"/><circle cx="111.3" cy="305.7" r="1.55"/><circle cx="111.7" cy="304.9" r="1.55"/><circle cx="112.2" cy="299.9" r="1.55"/><circle cx="112.6" cy="303.3" r="1.55"/><circle cx="113.1" cy="297.2" r="1.55"/><circle cx="113.5" cy="299.3" r="1.55"/><circle cx="113.9" cy="304.8" r="1.55"/><circle cx="114.4" cy="295.4" r="1.55"/><circle cx="114.8" cy="303.8" r="1.55"/><circle cx="115.3" cy="295.6" r="1.55"/><circle cx="115.7" cy="302.6" r="1.55"/><circle cx="116.1" cy="297.4" r="1.55"/><circle cx="116.6" cy="301.7" r="1.55"/><circle cx="117.0" cy="299.3" r="1.55"/><circle cx="117.5" cy="294.0" r="1.55"/><circle cx="117.9" cy="301.6" r="1.55"/><circle cx="118.3" cy="301.7" r="1.55"/><circle cx="118.8" cy="296.8" r="1.55"/><circle cx="119.2" cy="295.7" r="1.55"/><circle cx="119.7" cy="295.6" r="1.55"/><circle cx="120.1" cy="292.8" r="1.55"/><circle cx="120.5" cy="298.2" r="1.55"/><circle cx="121.0" cy="293.1" r="1.55"/><circle cx="121.4" cy="294.0" r="1.55"/><circle cx="121.9" cy="291.4" r="1.55"/><circle cx="122.3" cy="291.4" r="1.55"/><circle cx="122.7" cy="289.1" r="1.55"/><circle cx="123.2" cy="295.7" r="1.55"/><circle cx="123.6" cy="291.3" r="1.55"/><circle cx="124.1" cy="293.9" r="1.55"/><circle cx="124.5" cy="290.8" r="1.55"/><circle cx="124.9" cy="288.4" r="1.55"/><circle cx="125.4" cy="288.9" r="1.55"/><circle cx="125.8" cy="287.8" r="1.55"/><circle cx="126.3" cy="288.9" r="1.55"/><circle cx="126.7" cy="287.4" r="1.55"/><circle cx="127.1" cy="287.1" r="1.55"/><circle cx="127.6" cy="278.7" r="1.55"/><circle cx="128.0" cy="284.7" r="1.55"/><circle cx="128.5" cy="290.8" r="1.55"/><circle cx="128.9" cy="284.1" r="1.55"/><circle cx="129.3" cy="282.5" r="1.55"/><circle cx="129.8" cy="285.7" r="1.55"/><circle cx="130.2" cy="287.9" r="1.55"/><circle cx="130.7" cy="279.9" r="1.55"/><circle cx="131.1" cy="282.7" r="1.55"/><circle cx="131.5" cy="281.1" r="1.55"/><circle cx="132.0" cy="277.6" r="1.55"/><circle cx="132.4" cy="283.5" r="1.55"/><circle cx="132.9" cy="281.1" r="1.55"/><circle cx="133.3" cy="280.8" r="1.55"/><circle cx="133.7" cy="278.2" r="1.55"/><circle cx="134.2" cy="280.7" r="1.55"/><circle cx="134.6" cy="277.7" r="1.55"/><circle cx="135.1" cy="278.1" r="1.55"/><circle cx="135.5" cy="275.2" r="1.55"/><circle cx="135.9" cy="274.4" r="1.55"/><circle cx="136.4" cy="280.2" r="1.55"/><circle cx="136.8" cy="275.2" r="1.55"/><circle cx="137.3" cy="276.6" r="1.55"/><circle cx="137.7" cy="275.3" r="1.55"/><circle cx="138.1" cy="273.8" r="1.55"/><circle cx="138.6" cy="271.6" r="1.55"/><circle cx="139.0" cy="275.6" r="1.55"/><circle cx="139.5" cy="273.0" r="1.55"/><circle cx="139.9" cy="273.0" r="1.55"/><circle cx="140.3" cy="273.0" r="1.55"/><circle cx="140.8" cy="275.3" r="1.55"/><circle cx="141.2" cy="273.8" r="1.55"/><circle cx="141.7" cy="272.7" r="1.55"/><circle cx="142.1" cy="270.1" r="1.55"/><circle cx="142.5" cy="267.8" r="1.55"/><circle cx="143.0" cy="272.8" r="1.55"/><circle cx="143.4" cy="272.5" r="1.55"/><circle cx="143.9" cy="269.6" r="1.55"/><circle cx="144.3" cy="270.7" r="1.55"/><circle cx="144.7" cy="270.9" r="1.55"/><circle cx="145.2" cy="270.6" r="1.55"/><circle cx="145.6" cy="270.4" r="1.55"/><circle cx="146.1" cy="265.6" r="1.55"/><circle cx="146.5" cy="270.9" r="1.55"/><circle cx="146.9" cy="264.4" r="1.55"/><circle cx="147.4" cy="268.7" r="1.55"/><circle cx="147.8" cy="268.9" r="1.55"/><circle cx="148.3" cy="267.9" r="1.55"/><circle cx="148.7" cy="269.7" r="1.55"/><circle cx="149.1" cy="268.4" r="1.55"/><circle cx="149.6" cy="262.4" r="1.55"/><circle cx="150.0" cy="260.9" r="1.55"/><circle cx="150.5" cy="266.0" r="1.55"/><circle cx="150.9" cy="262.0" r="1.55"/><circle cx="151.3" cy="263.9" r="1.55"/><circle cx="151.8" cy="265.5" r="1.55"/><circle cx="152.2" cy="260.2" r="1.55"/><circle cx="152.7" cy="259.1" r="1.55"/><circle cx="153.1" cy="263.8" r="1.55"/><circle cx="153.5" cy="263.1" r="1.55"/><circle cx="154.0" cy="262.4" r="1.55"/><circle cx="154.4" cy="262.9" r="1.55"/><circle cx="154.9" cy="260.8" r="1.55"/><circle cx="155.3" cy="259.4" r="1.55"/><circle cx="155.7" cy="261.8" r="1.55"/><circle cx="156.2" cy="260.1" r="1.55"/><circle cx="156.6" cy="254.4" r="1.55"/><circle cx="157.1" cy="262.6" r="1.55"/><circle cx="157.5" cy="261.3" r="1.55"/><circle cx="157.9" cy="262.0" r="1.55"/><circle cx="158.4" cy="259.2" r="1.55"/><circle cx="158.8" cy="259.7" r="1.55"/><circle cx="159.3" cy="258.9" r="1.55"/><circle cx="159.7" cy="258.9" r="1.55"/><circle cx="160.1" cy="260.7" r="1.55"/><circle cx="160.6" cy="258.8" r="1.55"/><circle cx="161.0" cy="260.6" r="1.55"/><circle cx="161.5" cy="260.4" r="1.55"/><circle cx="161.9" cy="263.2" r="1.55"/><circle cx="162.3" cy="253.8" r="1.55"/><circle cx="162.8" cy="261.0" r="1.55"/><circle cx="163.2" cy="259.2" r="1.55"/><circle cx="163.7" cy="259.2" r="1.55"/><circle cx="164.1" cy="253.4" r="1.55"/><circle cx="164.5" cy="258.3" r="1.55"/><circle cx="165.0" cy="260.2" r="1.55"/><circle cx="165.4" cy="258.8" r="1.55"/><circle cx="165.9" cy="259.1" r="1.55"/><circle cx="166.3" cy="258.3" r="1.55"/><circle cx="166.7" cy="260.5" r="1.55"/><circle cx="167.2" cy="258.5" r="1.55"/><circle cx="167.6" cy="250.3" r="1.55"/><circle cx="168.1" cy="257.3" r="1.55"/><circle cx="168.5" cy="255.2" r="1.55"/><circle cx="168.9" cy="253.2" r="1.55"/><circle cx="169.4" cy="257.3" r="1.55"/><circle cx="169.8" cy="260.1" r="1.55"/><circle cx="170.3" cy="258.0" r="1.55"/><circle cx="170.7" cy="256.1" r="1.55"/><circle cx="171.1" cy="256.4" r="1.55"/><circle cx="171.6" cy="259.3" r="1.55"/><circle cx="172.0" cy="257.8" r="1.55"/><circle cx="172.5" cy="257.6" r="1.55"/><circle cx="172.9" cy="257.3" r="1.55"/><circle cx="173.3" cy="257.5" r="1.55"/><circle cx="173.8" cy="260.0" r="1.55"/><circle cx="174.2" cy="258.2" r="1.55"/><circle cx="174.7" cy="257.7" r="1.55"/><circle cx="175.1" cy="256.0" r="1.55"/><circle cx="175.5" cy="258.1" r="1.55"/><circle cx="176.0" cy="256.5" r="1.55"/><circle cx="176.4" cy="258.8" r="1.55"/><circle cx="176.9" cy="253.6" r="1.55"/><circle cx="177.3" cy="257.2" r="1.55"/><circle cx="177.7" cy="257.4" r="1.55"/><circle cx="178.2" cy="255.8" r="1.55"/><circle cx="178.6" cy="259.5" r="1.55"/><circle cx="179.1" cy="259.1" r="1.55"/><circle cx="179.5" cy="256.9" r="1.55"/><circle cx="179.9" cy="258.3" r="1.55"/><circle cx="180.4" cy="257.9" r="1.55"/><circle cx="180.8" cy="254.6" r="1.55"/><circle cx="181.3" cy="257.9" r="1.55"/><circle cx="181.7" cy="257.6" r="1.55"/><circle cx="182.1" cy="257.8" r="1.55"/><circle cx="182.6" cy="256.7" r="1.55"/><circle cx="183.0" cy="257.2" r="1.55"/><circle cx="183.5" cy="257.8" r="1.55"/><circle cx="183.9" cy="259.2" r="1.55"/><circle cx="184.3" cy="258.4" r="1.55"/><circle cx="184.8" cy="258.1" r="1.55"/><circle cx="185.2" cy="259.6" r="1.55"/><circle cx="185.7" cy="257.8" r="1.55"/><circle cx="186.1" cy="257.6" r="1.55"/><circle cx="186.5" cy="254.8" r="1.55"/><circle cx="187.0" cy="259.8" r="1.55"/><circle cx="187.4" cy="259.3" r="1.55"/><circle cx="187.9" cy="259.4" r="1.55"/><circle cx="188.3" cy="259.2" r="1.55"/><circle cx="188.7" cy="258.9" r="1.55"/><circle cx="189.2" cy="259.0" r="1.55"/><circle cx="189.6" cy="258.7" r="1.55"/><circle cx="190.1" cy="258.8" r="1.55"/><circle cx="190.5" cy="259.1" r="1.55"/><circle cx="190.9" cy="261.3" r="1.55"/><circle cx="191.4" cy="259.5" r="1.55"/><circle cx="191.8" cy="259.2" r="1.55"/><circle cx="192.3" cy="258.6" r="1.55"/><circle cx="192.7" cy="259.1" r="1.55"/><circle cx="193.1" cy="260.1" r="1.55"/><circle cx="193.6" cy="259.7" r="1.55"/><circle cx="194.0" cy="259.6" r="1.55"/><circle cx="194.5" cy="259.5" r="1.55"/><circle cx="194.9" cy="259.5" r="1.55"/></g>
<path d="M315.4 50.0V112.4M311.2 50.0H319.6M311.2 112.4H319.6" stroke="#ee2a24" stroke-width="1.3" fill="none"/>
<path d="M251.7 169.4V209.3M247.5 169.4H255.9M247.5 209.3H255.9" stroke="#0054a4" stroke-width="1.4" fill="none"/>
<path d="M194.9 243.8V274.8M190.4 243.8H199.4M190.4 274.8H199.4" stroke="#231f20" stroke-width="1.5" fill="none"/>
<path d="M366.6 0V22" stroke="#231f20" stroke-width="1.4"/>
<path d="M361.8 21H371.4L366.6 28.8Z" fill="#231f20"/>
<path d="M452.6 0V22" stroke="#231f20" stroke-width="1.4"/>
<path d="M447.8 21H457.4L452.6 28.8Z" fill="#231f20"/>
<path d="M508.8 0V22" stroke="#0054a4" stroke-width="1.4"/>
<path d="M504.0 21H513.6L508.8 28.8Z" fill="#0054a4"/>
<path d="M548.6 0V22" stroke="#0054a4" stroke-width="1.4"/>
<path d="M543.8 21H553.4L548.6 28.8Z" fill="#0054a4"/>
<path d="M614.5 0V22" stroke="#ee2a24" stroke-width="1.4"/>
<path d="M609.7 21H619.3L614.5 28.8Z" fill="#ee2a24"/>
<path d="M679.0 0V22" stroke="#ee2a24" stroke-width="1.4"/>
<path d="M674.2 21H683.8L679.0 28.8Z" fill="#ee2a24"/>
<path d="M58.5 1V417.8M58.5 417.8H713" stroke="#231f20" stroke-width="1.4" fill="none"/>
<path d="M58.5 417.8V425" stroke="#231f20" stroke-width="1.4" fill="none"/>
<path d="M51 15.4H58.5M51 93.2H58.5M51 170.2H58.5M51 248.3H58.5M51 324.7H58.5M51 417.8H58.5" stroke="#231f20" stroke-width="1.4" fill="none"/>
<path d="M58.5 417.8V425M146.7 417.8V425M234.5 417.8V425M322.2 417.8V425M410.7 417.8V425M498.7 417.8V425M586.4 417.8V425M674.3 417.8V425" stroke="#231f20" stroke-width="1.4" fill="none"/>
<text x="48.1" y="21.6" font-size="14.6" text-anchor="end">500</text>
<text x="48.1" y="101.5" font-size="14.6" text-anchor="end">400</text>
<text x="48.7" y="175.2" font-size="14.6" text-anchor="end">300</text>
<text x="48.1" y="253.7" font-size="14.6" text-anchor="end">200</text>
<text x="48.1" y="329.9" font-size="14.6" text-anchor="end">100</text>
<text x="47.9" y="422.7" font-size="14.6" text-anchor="end">0</text>
<text x="58.8" y="439.7" font-size="14.6" text-anchor="middle">0</text>
<text x="146.9" y="439.7" font-size="14.6" text-anchor="middle">200</text>
<text x="236.0" y="439.7" font-size="14.6" text-anchor="middle">400</text>
<text x="324.9" y="439.7" font-size="14.6" text-anchor="middle">600</text>
<text x="413.5" y="439.7" font-size="14.6" text-anchor="middle">800</text>
<text x="501.4" y="439.7" font-size="14.6" text-anchor="middle">1200</text>
<text x="589.8" y="439.7" font-size="14.6" text-anchor="middle">1800</text>
<text x="678.3" y="439.7" font-size="14.6" text-anchor="middle">2400</text>
<text x="344.6" y="462" font-size="13.5" textLength="70.6" lengthAdjust="spacingAndGlyphs">Samples (n)</text>
<text transform="translate(11.8 291) rotate(-90)" font-size="14" textLength="147" lengthAdjust="spacingAndGlyphs">Unique antibiograms (n)</text>
<text x="321.4" y="71.8" font-size="15" textLength="23" lengthAdjust="spacingAndGlyphs">416</text>
<text x="261.0" y="184.6" font-size="15" textLength="22" lengthAdjust="spacingAndGlyphs">273</text>
<text x="202.3" y="254.8" font-size="15" textLength="23.3" lengthAdjust="spacingAndGlyphs">185</text>
<text x="621.6" y="73.2" font-size="15.4" letter-spacing="-0.45">80<tspan font-size="12.4">%</tspan></text>
<text x="686.6" y="71.3" font-size="15.4" letter-spacing="-0.45">85<tspan font-size="12.4">%</tspan></text>
<text x="516.0" y="185.4" font-size="15.4" letter-spacing="-0.45">80<tspan font-size="12.4">%</tspan></text>
<text x="559.0" y="185.4" font-size="15.4" letter-spacing="-0.45">85<tspan font-size="12.4">%</tspan></text>
<text x="376.2" y="251.9" font-size="15.4" letter-spacing="-0.45">80<tspan font-size="12.4">%</tspan></text>
<text x="461.2" y="251.9" font-size="15.4" letter-spacing="-0.45">85<tspan font-size="12.4">%</tspan></text>
</svg></body></html>
